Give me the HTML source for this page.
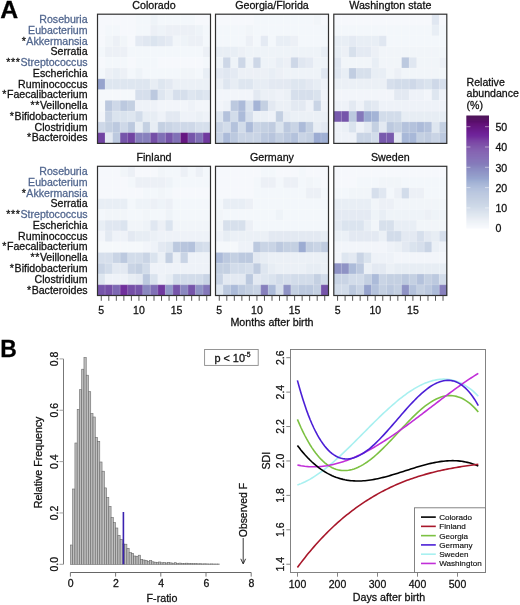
<!DOCTYPE html><html><head><meta charset="utf-8"><style>html,body{margin:0;padding:0;background:#fff;width:520px;height:605px;overflow:hidden;position:relative}</style></head><body><svg width="520" height="605" viewBox="0 0 520 605" style="position:absolute;left:0;top:0;font-family:'Liberation Sans', sans-serif;will-change:transform">
<rect width="520" height="605" fill="#fff"/>
<text transform="translate(0.2 17.6) scale(1.07 1)" font-size="23.2" font-weight="bold" fill="#000" stroke="#000" stroke-width="0.28">A</text>
<rect x="97.50" y="14.20" width="7.83" height="11.07" fill="#f6f8fc"/>
<rect x="105.03" y="14.20" width="7.83" height="11.07" fill="#f6f8fc"/>
<rect x="112.57" y="14.20" width="7.83" height="11.07" fill="#f6f8fc"/>
<rect x="120.10" y="14.20" width="7.83" height="11.07" fill="#f6f8fc"/>
<rect x="127.63" y="14.20" width="7.83" height="11.07" fill="#f6f8fc"/>
<rect x="135.17" y="14.20" width="7.83" height="11.07" fill="#f3f7fb"/>
<rect x="142.70" y="14.20" width="7.83" height="11.07" fill="#f3f7fb"/>
<rect x="150.23" y="14.20" width="7.83" height="11.07" fill="#eef3f8"/>
<rect x="157.77" y="14.20" width="7.83" height="11.07" fill="#f3f7fb"/>
<rect x="165.30" y="14.20" width="7.83" height="11.07" fill="#f3f7fb"/>
<rect x="172.83" y="14.20" width="7.83" height="11.07" fill="#f3f7fb"/>
<rect x="180.37" y="14.20" width="7.83" height="11.07" fill="#f3f7fb"/>
<rect x="187.90" y="14.20" width="7.83" height="11.07" fill="#f3f7fb"/>
<rect x="195.43" y="14.20" width="7.83" height="11.07" fill="#f6f8fc"/>
<rect x="202.97" y="14.20" width="7.83" height="11.07" fill="#f6f8fc"/>
<rect x="97.50" y="24.97" width="7.83" height="11.07" fill="#f6f8fc"/>
<rect x="105.03" y="24.97" width="7.83" height="11.07" fill="#f3f7fb"/>
<rect x="112.57" y="24.97" width="7.83" height="11.07" fill="#f3f7fb"/>
<rect x="120.10" y="24.97" width="7.83" height="11.07" fill="#f6f8fc"/>
<rect x="127.63" y="24.97" width="7.83" height="11.07" fill="#f6f8fc"/>
<rect x="135.17" y="24.97" width="7.83" height="11.07" fill="#f3f7fb"/>
<rect x="142.70" y="24.97" width="7.83" height="11.07" fill="#f3f7fb"/>
<rect x="150.23" y="24.97" width="7.83" height="11.07" fill="#ecf0f6"/>
<rect x="157.77" y="24.97" width="7.83" height="11.07" fill="#eef3f8"/>
<rect x="165.30" y="24.97" width="7.83" height="11.07" fill="#ecf0f6"/>
<rect x="172.83" y="24.97" width="7.83" height="11.07" fill="#ecf0f6"/>
<rect x="180.37" y="24.97" width="7.83" height="11.07" fill="#ecf0f6"/>
<rect x="187.90" y="24.97" width="7.83" height="11.07" fill="#ecf0f6"/>
<rect x="195.43" y="24.97" width="7.83" height="11.07" fill="#eef3f8"/>
<rect x="202.97" y="24.97" width="7.83" height="11.07" fill="#f3f7fb"/>
<rect x="97.50" y="35.73" width="7.83" height="11.07" fill="#f6f8fc"/>
<rect x="105.03" y="35.73" width="7.83" height="11.07" fill="#f1f5f9"/>
<rect x="112.57" y="35.73" width="7.83" height="11.07" fill="#ecf0f6"/>
<rect x="120.10" y="35.73" width="7.83" height="11.07" fill="#f1f5f9"/>
<rect x="127.63" y="35.73" width="7.83" height="11.07" fill="#f6f8fc"/>
<rect x="135.17" y="35.73" width="7.83" height="11.07" fill="#e4eaf3"/>
<rect x="142.70" y="35.73" width="7.83" height="11.07" fill="#e0e7f1"/>
<rect x="150.23" y="35.73" width="7.83" height="11.07" fill="#dbe4ef"/>
<rect x="157.77" y="35.73" width="7.83" height="11.07" fill="#e0e7f1"/>
<rect x="165.30" y="35.73" width="7.83" height="11.07" fill="#e4eaf3"/>
<rect x="172.83" y="35.73" width="7.83" height="11.07" fill="#f1f5f9"/>
<rect x="180.37" y="35.73" width="7.83" height="11.07" fill="#eef3f8"/>
<rect x="187.90" y="35.73" width="7.83" height="11.07" fill="#ecf0f6"/>
<rect x="195.43" y="35.73" width="7.83" height="11.07" fill="#ecf0f6"/>
<rect x="202.97" y="35.73" width="7.83" height="11.07" fill="#f3f7fb"/>
<rect x="97.50" y="46.50" width="7.83" height="11.07" fill="#f3f7fb"/>
<rect x="105.03" y="46.50" width="7.83" height="11.07" fill="#ecf0f6"/>
<rect x="112.57" y="46.50" width="7.83" height="11.07" fill="#ecf0f6"/>
<rect x="120.10" y="46.50" width="7.83" height="11.07" fill="#ecf0f6"/>
<rect x="127.63" y="46.50" width="7.83" height="11.07" fill="#f3f7fb"/>
<rect x="135.17" y="46.50" width="7.83" height="11.07" fill="#f3f7fb"/>
<rect x="142.70" y="46.50" width="7.83" height="11.07" fill="#f3f7fb"/>
<rect x="150.23" y="46.50" width="7.83" height="11.07" fill="#f3f7fb"/>
<rect x="157.77" y="46.50" width="7.83" height="11.07" fill="#f3f7fb"/>
<rect x="165.30" y="46.50" width="7.83" height="11.07" fill="#f3f7fb"/>
<rect x="172.83" y="46.50" width="7.83" height="11.07" fill="#f3f7fb"/>
<rect x="180.37" y="46.50" width="7.83" height="11.07" fill="#f3f7fb"/>
<rect x="187.90" y="46.50" width="7.83" height="11.07" fill="#f3f7fb"/>
<rect x="195.43" y="46.50" width="7.83" height="11.07" fill="#f3f7fb"/>
<rect x="202.97" y="46.50" width="7.83" height="11.07" fill="#ecf0f6"/>
<rect x="97.50" y="57.27" width="7.83" height="11.07" fill="#f6f8fc"/>
<rect x="105.03" y="57.27" width="7.83" height="11.07" fill="#f3f7fb"/>
<rect x="112.57" y="57.27" width="7.83" height="11.07" fill="#f3f7fb"/>
<rect x="120.10" y="57.27" width="7.83" height="11.07" fill="#f3f7fb"/>
<rect x="127.63" y="57.27" width="7.83" height="11.07" fill="#f6f8fc"/>
<rect x="135.17" y="57.27" width="7.83" height="11.07" fill="#f3f7fb"/>
<rect x="142.70" y="57.27" width="7.83" height="11.07" fill="#f3f7fb"/>
<rect x="150.23" y="57.27" width="7.83" height="11.07" fill="#f3f7fb"/>
<rect x="157.77" y="57.27" width="7.83" height="11.07" fill="#f6f8fc"/>
<rect x="165.30" y="57.27" width="7.83" height="11.07" fill="#f6f8fc"/>
<rect x="172.83" y="57.27" width="7.83" height="11.07" fill="#f6f8fc"/>
<rect x="180.37" y="57.27" width="7.83" height="11.07" fill="#f6f8fc"/>
<rect x="187.90" y="57.27" width="7.83" height="11.07" fill="#f6f8fc"/>
<rect x="195.43" y="57.27" width="7.83" height="11.07" fill="#f6f8fc"/>
<rect x="202.97" y="57.27" width="7.83" height="11.07" fill="#f3f7fb"/>
<rect x="97.50" y="68.03" width="7.83" height="11.07" fill="#f3f7fb"/>
<rect x="105.03" y="68.03" width="7.83" height="11.07" fill="#ecf0f6"/>
<rect x="112.57" y="68.03" width="7.83" height="11.07" fill="#e8eef5"/>
<rect x="120.10" y="68.03" width="7.83" height="11.07" fill="#ecf0f6"/>
<rect x="127.63" y="68.03" width="7.83" height="11.07" fill="#f3f7fb"/>
<rect x="135.17" y="68.03" width="7.83" height="11.07" fill="#eef3f8"/>
<rect x="142.70" y="68.03" width="7.83" height="11.07" fill="#f3f7fb"/>
<rect x="150.23" y="68.03" width="7.83" height="11.07" fill="#f3f7fb"/>
<rect x="157.77" y="68.03" width="7.83" height="11.07" fill="#f3f7fb"/>
<rect x="165.30" y="68.03" width="7.83" height="11.07" fill="#f3f7fb"/>
<rect x="172.83" y="68.03" width="7.83" height="11.07" fill="#f3f7fb"/>
<rect x="180.37" y="68.03" width="7.83" height="11.07" fill="#f1f5f9"/>
<rect x="187.90" y="68.03" width="7.83" height="11.07" fill="#f1f5f9"/>
<rect x="195.43" y="68.03" width="7.83" height="11.07" fill="#f3f7fb"/>
<rect x="202.97" y="68.03" width="7.83" height="11.07" fill="#e8eef5"/>
<rect x="97.50" y="78.80" width="7.83" height="11.07" fill="#96a3cd"/>
<rect x="105.03" y="78.80" width="7.83" height="11.07" fill="#dee6f0"/>
<rect x="112.57" y="78.80" width="7.83" height="11.07" fill="#dee6f0"/>
<rect x="120.10" y="78.80" width="7.83" height="11.07" fill="#dee6f0"/>
<rect x="127.63" y="78.80" width="7.83" height="11.07" fill="#dee6f0"/>
<rect x="135.17" y="78.80" width="7.83" height="11.07" fill="#dee6f0"/>
<rect x="142.70" y="78.80" width="7.83" height="11.07" fill="#dee6f0"/>
<rect x="150.23" y="78.80" width="7.83" height="11.07" fill="#e7edf4"/>
<rect x="157.77" y="78.80" width="7.83" height="11.07" fill="#dee6f0"/>
<rect x="165.30" y="78.80" width="7.83" height="11.07" fill="#e3e9f2"/>
<rect x="172.83" y="78.80" width="7.83" height="11.07" fill="#ebf0f6"/>
<rect x="180.37" y="78.80" width="7.83" height="11.07" fill="#ebf0f6"/>
<rect x="187.90" y="78.80" width="7.83" height="11.07" fill="#ebf0f6"/>
<rect x="195.43" y="78.80" width="7.83" height="11.07" fill="#ebf0f6"/>
<rect x="202.97" y="78.80" width="7.83" height="11.07" fill="#ebf0f6"/>
<rect x="97.50" y="89.57" width="7.83" height="11.07" fill="#f5f8fb"/>
<rect x="105.03" y="89.57" width="7.83" height="11.07" fill="#f5f8fb"/>
<rect x="112.57" y="89.57" width="7.83" height="11.07" fill="#f5f8fb"/>
<rect x="120.10" y="89.57" width="7.83" height="11.07" fill="#f5f8fb"/>
<rect x="127.63" y="89.57" width="7.83" height="11.07" fill="#f5f8fb"/>
<rect x="135.17" y="89.57" width="7.83" height="11.07" fill="#d6dfec"/>
<rect x="142.70" y="89.57" width="7.83" height="11.07" fill="#d6dfec"/>
<rect x="150.23" y="89.57" width="7.83" height="11.07" fill="#bcc9df"/>
<rect x="157.77" y="89.57" width="7.83" height="11.07" fill="#dee6f0"/>
<rect x="165.30" y="89.57" width="7.83" height="11.07" fill="#e7edf4"/>
<rect x="172.83" y="89.57" width="7.83" height="11.07" fill="#d6dfec"/>
<rect x="180.37" y="89.57" width="7.83" height="11.07" fill="#d6dfec"/>
<rect x="187.90" y="89.57" width="7.83" height="11.07" fill="#dee6f0"/>
<rect x="195.43" y="89.57" width="7.83" height="11.07" fill="#dae3ee"/>
<rect x="202.97" y="89.57" width="7.83" height="11.07" fill="#dee6f0"/>
<rect x="97.50" y="100.33" width="7.83" height="11.07" fill="#f5f8fb"/>
<rect x="105.03" y="100.33" width="7.83" height="11.07" fill="#bcc9df"/>
<rect x="112.57" y="100.33" width="7.83" height="11.07" fill="#ced8e8"/>
<rect x="120.10" y="100.33" width="7.83" height="11.07" fill="#bcc9df"/>
<rect x="127.63" y="100.33" width="7.83" height="11.07" fill="#c4d0e2"/>
<rect x="135.17" y="100.33" width="7.83" height="11.07" fill="#eef2f8"/>
<rect x="142.70" y="100.33" width="7.83" height="11.07" fill="#eef2f8"/>
<rect x="150.23" y="100.33" width="7.83" height="11.07" fill="#eef2f8"/>
<rect x="157.77" y="100.33" width="7.83" height="11.07" fill="#f2f5fa"/>
<rect x="165.30" y="100.33" width="7.83" height="11.07" fill="#f2f5fa"/>
<rect x="172.83" y="100.33" width="7.83" height="11.07" fill="#f2f5fa"/>
<rect x="180.37" y="100.33" width="7.83" height="11.07" fill="#f2f5fa"/>
<rect x="187.90" y="100.33" width="7.83" height="11.07" fill="#eef2f8"/>
<rect x="195.43" y="100.33" width="7.83" height="11.07" fill="#f2f5fa"/>
<rect x="202.97" y="100.33" width="7.83" height="11.07" fill="#f2f5fa"/>
<rect x="97.50" y="111.10" width="7.83" height="11.07" fill="#f2f5fa"/>
<rect x="105.03" y="111.10" width="7.83" height="11.07" fill="#c9d4e5"/>
<rect x="112.57" y="111.10" width="7.83" height="11.07" fill="#dae3ee"/>
<rect x="120.10" y="111.10" width="7.83" height="11.07" fill="#dae3ee"/>
<rect x="127.63" y="111.10" width="7.83" height="11.07" fill="#dee6f0"/>
<rect x="135.17" y="111.10" width="7.83" height="11.07" fill="#d2dcea"/>
<rect x="142.70" y="111.10" width="7.83" height="11.07" fill="#e7edf4"/>
<rect x="150.23" y="111.10" width="7.83" height="11.07" fill="#e7edf4"/>
<rect x="157.77" y="111.10" width="7.83" height="11.07" fill="#eef2f8"/>
<rect x="165.30" y="111.10" width="7.83" height="11.07" fill="#e3e9f2"/>
<rect x="172.83" y="111.10" width="7.83" height="11.07" fill="#e3e9f2"/>
<rect x="180.37" y="111.10" width="7.83" height="11.07" fill="#eef2f8"/>
<rect x="187.90" y="111.10" width="7.83" height="11.07" fill="#eef2f8"/>
<rect x="195.43" y="111.10" width="7.83" height="11.07" fill="#ebf0f6"/>
<rect x="202.97" y="111.10" width="7.83" height="11.07" fill="#eef2f8"/>
<rect x="97.50" y="121.87" width="7.83" height="11.07" fill="#ced8e8"/>
<rect x="105.03" y="121.87" width="7.83" height="11.07" fill="#c4d0e2"/>
<rect x="112.57" y="121.87" width="7.83" height="11.07" fill="#bcc9df"/>
<rect x="120.10" y="121.87" width="7.83" height="11.07" fill="#ced8e8"/>
<rect x="127.63" y="121.87" width="7.83" height="11.07" fill="#bcc9df"/>
<rect x="135.17" y="121.87" width="7.83" height="11.07" fill="#e7edf4"/>
<rect x="142.70" y="121.87" width="7.83" height="11.07" fill="#c4d0e2"/>
<rect x="150.23" y="121.87" width="7.83" height="11.07" fill="#e7edf4"/>
<rect x="157.77" y="121.87" width="7.83" height="11.07" fill="#c4d0e2"/>
<rect x="165.30" y="121.87" width="7.83" height="11.07" fill="#c9d4e5"/>
<rect x="172.83" y="121.87" width="7.83" height="11.07" fill="#ced8e8"/>
<rect x="180.37" y="121.87" width="7.83" height="11.07" fill="#ced8e8"/>
<rect x="187.90" y="121.87" width="7.83" height="11.07" fill="#ced8e8"/>
<rect x="195.43" y="121.87" width="7.83" height="11.07" fill="#d6dfec"/>
<rect x="202.97" y="121.87" width="7.83" height="11.07" fill="#d6dfec"/>
<rect x="97.50" y="132.63" width="7.83" height="11.07" fill="#7143a2"/>
<rect x="105.03" y="132.63" width="7.83" height="11.07" fill="#e3e9f2"/>
<rect x="112.57" y="132.63" width="7.83" height="11.07" fill="#bcc9df"/>
<rect x="120.10" y="132.63" width="7.83" height="11.07" fill="#7655aa"/>
<rect x="127.63" y="132.63" width="7.83" height="11.07" fill="#7143a2"/>
<rect x="135.17" y="132.63" width="7.83" height="11.07" fill="#8780bd"/>
<rect x="142.70" y="132.63" width="7.83" height="11.07" fill="#8780bd"/>
<rect x="150.23" y="132.63" width="7.83" height="11.07" fill="#754fa7"/>
<rect x="157.77" y="132.63" width="7.83" height="11.07" fill="#8070b6"/>
<rect x="165.30" y="132.63" width="7.83" height="11.07" fill="#7655aa"/>
<rect x="172.83" y="132.63" width="7.83" height="11.07" fill="#8070b6"/>
<rect x="180.37" y="132.63" width="7.83" height="11.07" fill="#661782"/>
<rect x="187.90" y="132.63" width="7.83" height="11.07" fill="#7655aa"/>
<rect x="195.43" y="132.63" width="7.83" height="11.07" fill="#8070b6"/>
<rect x="202.97" y="132.63" width="7.83" height="11.07" fill="#70399f"/>
<path d="M105.03 14.20V143.40M112.57 14.20V143.40M120.10 14.20V143.40M127.63 14.20V143.40M135.17 14.20V143.40M142.70 14.20V143.40M150.23 14.20V143.40M157.77 14.20V143.40M165.30 14.20V143.40M172.83 14.20V143.40M180.37 14.20V143.40M187.90 14.20V143.40M195.43 14.20V143.40M202.97 14.20V143.40M97.50 24.97H210.50M97.50 35.73H210.50M97.50 46.50H210.50M97.50 57.27H210.50M97.50 68.03H210.50M97.50 78.80H210.50M97.50 89.57H210.50M97.50 100.33H210.50M97.50 111.10H210.50M97.50 121.87H210.50M97.50 132.63H210.50" stroke="#fff" stroke-opacity="0.3" stroke-width="0.6" fill="none"/>
<rect x="97.5" y="14.2" width="113.0" height="129.2" fill="none" stroke="#303030" stroke-width="1.2"/>
<text x="154.0" y="9.0" font-size="10.7" text-anchor="middle" fill="#111" stroke="#111" stroke-width="0.28">Colorado</text>
<text x="87.6" y="23.00" font-size="10.6" text-anchor="end" fill="#52678f" stroke="#52678f" stroke-width="0.275"><tspan fill="#111" letter-spacing="0.6" stroke="#111" stroke-width="0.28"></tspan>Roseburia</text>
<text x="87.6" y="33.77" font-size="10.6" text-anchor="end" fill="#52678f" stroke="#52678f" stroke-width="0.275"><tspan fill="#111" letter-spacing="0.6" stroke="#111" stroke-width="0.28"></tspan>Eubacterium</text>
<text x="87.6" y="44.53" font-size="10.6" text-anchor="end" fill="#52678f" stroke="#52678f" stroke-width="0.275"><tspan fill="#111" letter-spacing="0.6" stroke="#111" stroke-width="0.28">*</tspan>Akkermansia</text>
<text x="87.6" y="55.30" font-size="10.6" text-anchor="end" fill="#111" stroke="#111" stroke-width="0.275"><tspan fill="#111" letter-spacing="0.6" stroke="#111" stroke-width="0.28"></tspan>Serratia</text>
<text x="87.6" y="66.07" font-size="10.6" text-anchor="end" fill="#52678f" stroke="#52678f" stroke-width="0.275"><tspan fill="#111" letter-spacing="0.6" stroke="#111" stroke-width="0.28">***</tspan>Streptococcus</text>
<text x="87.6" y="76.83" font-size="10.6" text-anchor="end" fill="#111" stroke="#111" stroke-width="0.275"><tspan fill="#111" letter-spacing="0.6" stroke="#111" stroke-width="0.28"></tspan>Escherichia</text>
<text x="87.6" y="87.60" font-size="10.6" text-anchor="end" fill="#111" stroke="#111" stroke-width="0.275"><tspan fill="#111" letter-spacing="0.6" stroke="#111" stroke-width="0.28"></tspan>Ruminococcus</text>
<text x="87.6" y="98.37" font-size="10.6" text-anchor="end" fill="#111" stroke="#111" stroke-width="0.275"><tspan fill="#111" letter-spacing="0.6" stroke="#111" stroke-width="0.28">*</tspan>Faecalibacterium</text>
<text x="87.6" y="109.13" font-size="10.6" text-anchor="end" fill="#111" stroke="#111" stroke-width="0.275"><tspan fill="#111" letter-spacing="0.6" stroke="#111" stroke-width="0.28">**</tspan>Veillonella</text>
<text x="87.6" y="119.90" font-size="10.6" text-anchor="end" fill="#111" stroke="#111" stroke-width="0.275"><tspan fill="#111" letter-spacing="0.6" stroke="#111" stroke-width="0.28">*</tspan>Bifidobacterium</text>
<text x="87.6" y="130.67" font-size="10.6" text-anchor="end" fill="#111" stroke="#111" stroke-width="0.275"><tspan fill="#111" letter-spacing="0.6" stroke="#111" stroke-width="0.28"></tspan>Clostridium</text>
<text x="87.6" y="141.43" font-size="10.6" text-anchor="end" fill="#111" stroke="#111" stroke-width="0.275"><tspan fill="#111" letter-spacing="0.6" stroke="#111" stroke-width="0.28">*</tspan>Bacteroides</text>
<rect x="215.50" y="14.20" width="7.83" height="11.07" fill="#f6f8fc"/>
<rect x="223.03" y="14.20" width="7.83" height="11.07" fill="#f6f8fc"/>
<rect x="230.57" y="14.20" width="7.83" height="11.07" fill="#f6f8fc"/>
<rect x="238.10" y="14.20" width="7.83" height="11.07" fill="#f6f8fc"/>
<rect x="245.63" y="14.20" width="7.83" height="11.07" fill="#f6f8fc"/>
<rect x="253.17" y="14.20" width="7.83" height="11.07" fill="#f3f7fb"/>
<rect x="260.70" y="14.20" width="7.83" height="11.07" fill="#f3f7fb"/>
<rect x="268.23" y="14.20" width="7.83" height="11.07" fill="#f3f7fb"/>
<rect x="275.77" y="14.20" width="7.83" height="11.07" fill="#f3f7fb"/>
<rect x="283.30" y="14.20" width="7.83" height="11.07" fill="#f3f7fb"/>
<rect x="290.83" y="14.20" width="7.83" height="11.07" fill="#f3f7fb"/>
<rect x="298.37" y="14.20" width="7.83" height="11.07" fill="#f3f7fb"/>
<rect x="305.90" y="14.20" width="7.83" height="11.07" fill="#f3f7fb"/>
<rect x="313.43" y="14.20" width="7.83" height="11.07" fill="#f1f5f9"/>
<rect x="320.97" y="14.20" width="7.83" height="11.07" fill="#f6f8fc"/>
<rect x="215.50" y="24.97" width="7.83" height="11.07" fill="#f3f7fb"/>
<rect x="223.03" y="24.97" width="7.83" height="11.07" fill="#f3f7fb"/>
<rect x="230.57" y="24.97" width="7.83" height="11.07" fill="#f3f7fb"/>
<rect x="238.10" y="24.97" width="7.83" height="11.07" fill="#f3f7fb"/>
<rect x="245.63" y="24.97" width="7.83" height="11.07" fill="#f1f5f9"/>
<rect x="253.17" y="24.97" width="7.83" height="11.07" fill="#f3f7fb"/>
<rect x="260.70" y="24.97" width="7.83" height="11.07" fill="#f3f7fb"/>
<rect x="268.23" y="24.97" width="7.83" height="11.07" fill="#f3f7fb"/>
<rect x="275.77" y="24.97" width="7.83" height="11.07" fill="#f3f7fb"/>
<rect x="283.30" y="24.97" width="7.83" height="11.07" fill="#f3f7fb"/>
<rect x="290.83" y="24.97" width="7.83" height="11.07" fill="#f3f7fb"/>
<rect x="298.37" y="24.97" width="7.83" height="11.07" fill="#f3f7fb"/>
<rect x="305.90" y="24.97" width="7.83" height="11.07" fill="#f3f7fb"/>
<rect x="313.43" y="24.97" width="7.83" height="11.07" fill="#f3f7fb"/>
<rect x="320.97" y="24.97" width="7.83" height="11.07" fill="#f3f7fb"/>
<rect x="215.50" y="35.73" width="7.83" height="11.07" fill="#f3f7fb"/>
<rect x="223.03" y="35.73" width="7.83" height="11.07" fill="#f3f7fb"/>
<rect x="230.57" y="35.73" width="7.83" height="11.07" fill="#f3f7fb"/>
<rect x="238.10" y="35.73" width="7.83" height="11.07" fill="#f3f7fb"/>
<rect x="245.63" y="35.73" width="7.83" height="11.07" fill="#ecf0f6"/>
<rect x="253.17" y="35.73" width="7.83" height="11.07" fill="#f3f7fb"/>
<rect x="260.70" y="35.73" width="7.83" height="11.07" fill="#e4eaf3"/>
<rect x="268.23" y="35.73" width="7.83" height="11.07" fill="#f3f7fb"/>
<rect x="275.77" y="35.73" width="7.83" height="11.07" fill="#e8eef5"/>
<rect x="283.30" y="35.73" width="7.83" height="11.07" fill="#e8eef5"/>
<rect x="290.83" y="35.73" width="7.83" height="11.07" fill="#ecf0f6"/>
<rect x="298.37" y="35.73" width="7.83" height="11.07" fill="#f3f7fb"/>
<rect x="305.90" y="35.73" width="7.83" height="11.07" fill="#f3f7fb"/>
<rect x="313.43" y="35.73" width="7.83" height="11.07" fill="#f3f7fb"/>
<rect x="320.97" y="35.73" width="7.83" height="11.07" fill="#f3f7fb"/>
<rect x="215.50" y="46.50" width="7.83" height="11.07" fill="#e8eef5"/>
<rect x="223.03" y="46.50" width="7.83" height="11.07" fill="#e8eef5"/>
<rect x="230.57" y="46.50" width="7.83" height="11.07" fill="#e8eef5"/>
<rect x="238.10" y="46.50" width="7.83" height="11.07" fill="#ecf0f6"/>
<rect x="245.63" y="46.50" width="7.83" height="11.07" fill="#eef3f8"/>
<rect x="253.17" y="46.50" width="7.83" height="11.07" fill="#eef3f8"/>
<rect x="260.70" y="46.50" width="7.83" height="11.07" fill="#eef3f8"/>
<rect x="268.23" y="46.50" width="7.83" height="11.07" fill="#eef3f8"/>
<rect x="275.77" y="46.50" width="7.83" height="11.07" fill="#eef3f8"/>
<rect x="283.30" y="46.50" width="7.83" height="11.07" fill="#eef3f8"/>
<rect x="290.83" y="46.50" width="7.83" height="11.07" fill="#eef3f8"/>
<rect x="298.37" y="46.50" width="7.83" height="11.07" fill="#eef3f8"/>
<rect x="305.90" y="46.50" width="7.83" height="11.07" fill="#eef3f8"/>
<rect x="313.43" y="46.50" width="7.83" height="11.07" fill="#eef3f8"/>
<rect x="320.97" y="46.50" width="7.83" height="11.07" fill="#e8eef5"/>
<rect x="215.50" y="57.27" width="7.83" height="11.07" fill="#eef3f8"/>
<rect x="223.03" y="57.27" width="7.83" height="11.07" fill="#cdd7e7"/>
<rect x="230.57" y="57.27" width="7.83" height="11.07" fill="#eef3f8"/>
<rect x="238.10" y="57.27" width="7.83" height="11.07" fill="#cdd7e7"/>
<rect x="245.63" y="57.27" width="7.83" height="11.07" fill="#eef3f8"/>
<rect x="253.17" y="57.27" width="7.83" height="11.07" fill="#cdd7e7"/>
<rect x="260.70" y="57.27" width="7.83" height="11.07" fill="#eef3f8"/>
<rect x="268.23" y="57.27" width="7.83" height="11.07" fill="#eef3f8"/>
<rect x="275.77" y="57.27" width="7.83" height="11.07" fill="#e8eef5"/>
<rect x="283.30" y="57.27" width="7.83" height="11.07" fill="#ecf0f6"/>
<rect x="290.83" y="57.27" width="7.83" height="11.07" fill="#cdd7e7"/>
<rect x="298.37" y="57.27" width="7.83" height="11.07" fill="#e0e7f1"/>
<rect x="305.90" y="57.27" width="7.83" height="11.07" fill="#e4eaf3"/>
<rect x="313.43" y="57.27" width="7.83" height="11.07" fill="#eef3f8"/>
<rect x="320.97" y="57.27" width="7.83" height="11.07" fill="#eef3f8"/>
<rect x="215.50" y="68.03" width="7.83" height="11.07" fill="#e4eaf3"/>
<rect x="223.03" y="68.03" width="7.83" height="11.07" fill="#e0e7f1"/>
<rect x="230.57" y="68.03" width="7.83" height="11.07" fill="#e4eaf3"/>
<rect x="238.10" y="68.03" width="7.83" height="11.07" fill="#ecf0f6"/>
<rect x="245.63" y="68.03" width="7.83" height="11.07" fill="#ecf0f6"/>
<rect x="253.17" y="68.03" width="7.83" height="11.07" fill="#ecf0f6"/>
<rect x="260.70" y="68.03" width="7.83" height="11.07" fill="#ecf0f6"/>
<rect x="268.23" y="68.03" width="7.83" height="11.07" fill="#e8eef5"/>
<rect x="275.77" y="68.03" width="7.83" height="11.07" fill="#ecf0f6"/>
<rect x="283.30" y="68.03" width="7.83" height="11.07" fill="#eef3f8"/>
<rect x="290.83" y="68.03" width="7.83" height="11.07" fill="#eef3f8"/>
<rect x="298.37" y="68.03" width="7.83" height="11.07" fill="#eef3f8"/>
<rect x="305.90" y="68.03" width="7.83" height="11.07" fill="#eef3f8"/>
<rect x="313.43" y="68.03" width="7.83" height="11.07" fill="#eef3f8"/>
<rect x="320.97" y="68.03" width="7.83" height="11.07" fill="#e0e7f1"/>
<rect x="215.50" y="78.80" width="7.83" height="11.07" fill="#ebf0f6"/>
<rect x="223.03" y="78.80" width="7.83" height="11.07" fill="#dee6f0"/>
<rect x="230.57" y="78.80" width="7.83" height="11.07" fill="#e7edf4"/>
<rect x="238.10" y="78.80" width="7.83" height="11.07" fill="#dee6f0"/>
<rect x="245.63" y="78.80" width="7.83" height="11.07" fill="#dee6f0"/>
<rect x="253.17" y="78.80" width="7.83" height="11.07" fill="#e7edf4"/>
<rect x="260.70" y="78.80" width="7.83" height="11.07" fill="#e7edf4"/>
<rect x="268.23" y="78.80" width="7.83" height="11.07" fill="#e3e9f2"/>
<rect x="275.77" y="78.80" width="7.83" height="11.07" fill="#e3e9f2"/>
<rect x="283.30" y="78.80" width="7.83" height="11.07" fill="#e3e9f2"/>
<rect x="290.83" y="78.80" width="7.83" height="11.07" fill="#dee6f0"/>
<rect x="298.37" y="78.80" width="7.83" height="11.07" fill="#dee6f0"/>
<rect x="305.90" y="78.80" width="7.83" height="11.07" fill="#e3e9f2"/>
<rect x="313.43" y="78.80" width="7.83" height="11.07" fill="#e7edf4"/>
<rect x="320.97" y="78.80" width="7.83" height="11.07" fill="#eef2f8"/>
<rect x="215.50" y="89.57" width="7.83" height="11.07" fill="#f2f5fa"/>
<rect x="223.03" y="89.57" width="7.83" height="11.07" fill="#f2f5fa"/>
<rect x="230.57" y="89.57" width="7.83" height="11.07" fill="#f2f5fa"/>
<rect x="238.10" y="89.57" width="7.83" height="11.07" fill="#f2f5fa"/>
<rect x="245.63" y="89.57" width="7.83" height="11.07" fill="#f2f5fa"/>
<rect x="253.17" y="89.57" width="7.83" height="11.07" fill="#e3e9f2"/>
<rect x="260.70" y="89.57" width="7.83" height="11.07" fill="#ebf0f6"/>
<rect x="268.23" y="89.57" width="7.83" height="11.07" fill="#ebf0f6"/>
<rect x="275.77" y="89.57" width="7.83" height="11.07" fill="#eef2f8"/>
<rect x="283.30" y="89.57" width="7.83" height="11.07" fill="#ebf0f6"/>
<rect x="290.83" y="89.57" width="7.83" height="11.07" fill="#d6dfec"/>
<rect x="298.37" y="89.57" width="7.83" height="11.07" fill="#d6dfec"/>
<rect x="305.90" y="89.57" width="7.83" height="11.07" fill="#d6dfec"/>
<rect x="313.43" y="89.57" width="7.83" height="11.07" fill="#dae3ee"/>
<rect x="320.97" y="89.57" width="7.83" height="11.07" fill="#eef2f8"/>
<rect x="215.50" y="100.33" width="7.83" height="11.07" fill="#f2f5fa"/>
<rect x="223.03" y="100.33" width="7.83" height="11.07" fill="#eef2f8"/>
<rect x="230.57" y="100.33" width="7.83" height="11.07" fill="#bcc9df"/>
<rect x="238.10" y="100.33" width="7.83" height="11.07" fill="#acbbd9"/>
<rect x="245.63" y="100.33" width="7.83" height="11.07" fill="#dae3ee"/>
<rect x="253.17" y="100.33" width="7.83" height="11.07" fill="#a4b4d6"/>
<rect x="260.70" y="100.33" width="7.83" height="11.07" fill="#c4d0e2"/>
<rect x="268.23" y="100.33" width="7.83" height="11.07" fill="#e3e9f2"/>
<rect x="275.77" y="100.33" width="7.83" height="11.07" fill="#ebf0f6"/>
<rect x="283.30" y="100.33" width="7.83" height="11.07" fill="#ebf0f6"/>
<rect x="290.83" y="100.33" width="7.83" height="11.07" fill="#e3e9f2"/>
<rect x="298.37" y="100.33" width="7.83" height="11.07" fill="#e3e9f2"/>
<rect x="305.90" y="100.33" width="7.83" height="11.07" fill="#eef2f8"/>
<rect x="313.43" y="100.33" width="7.83" height="11.07" fill="#c9d4e5"/>
<rect x="320.97" y="100.33" width="7.83" height="11.07" fill="#eef2f8"/>
<rect x="215.50" y="111.10" width="7.83" height="11.07" fill="#dee6f0"/>
<rect x="223.03" y="111.10" width="7.83" height="11.07" fill="#b4c2dc"/>
<rect x="230.57" y="111.10" width="7.83" height="11.07" fill="#d2dcea"/>
<rect x="238.10" y="111.10" width="7.83" height="11.07" fill="#acbbd9"/>
<rect x="245.63" y="111.10" width="7.83" height="11.07" fill="#d6dfec"/>
<rect x="253.17" y="111.10" width="7.83" height="11.07" fill="#ebf0f6"/>
<rect x="260.70" y="111.10" width="7.83" height="11.07" fill="#ebf0f6"/>
<rect x="268.23" y="111.10" width="7.83" height="11.07" fill="#eef2f8"/>
<rect x="275.77" y="111.10" width="7.83" height="11.07" fill="#c4d0e2"/>
<rect x="283.30" y="111.10" width="7.83" height="11.07" fill="#e7edf4"/>
<rect x="290.83" y="111.10" width="7.83" height="11.07" fill="#ebf0f6"/>
<rect x="298.37" y="111.10" width="7.83" height="11.07" fill="#ebf0f6"/>
<rect x="305.90" y="111.10" width="7.83" height="11.07" fill="#ebf0f6"/>
<rect x="313.43" y="111.10" width="7.83" height="11.07" fill="#ebf0f6"/>
<rect x="320.97" y="111.10" width="7.83" height="11.07" fill="#ebf0f6"/>
<rect x="215.50" y="121.87" width="7.83" height="11.07" fill="#c9d4e5"/>
<rect x="223.03" y="121.87" width="7.83" height="11.07" fill="#d2dcea"/>
<rect x="230.57" y="121.87" width="7.83" height="11.07" fill="#b4c2dc"/>
<rect x="238.10" y="121.87" width="7.83" height="11.07" fill="#d2dcea"/>
<rect x="245.63" y="121.87" width="7.83" height="11.07" fill="#acbbd9"/>
<rect x="253.17" y="121.87" width="7.83" height="11.07" fill="#c9d4e5"/>
<rect x="260.70" y="121.87" width="7.83" height="11.07" fill="#c4d0e2"/>
<rect x="268.23" y="121.87" width="7.83" height="11.07" fill="#c0cce0"/>
<rect x="275.77" y="121.87" width="7.83" height="11.07" fill="#dae3ee"/>
<rect x="283.30" y="121.87" width="7.83" height="11.07" fill="#bcc9df"/>
<rect x="290.83" y="121.87" width="7.83" height="11.07" fill="#c9d4e5"/>
<rect x="298.37" y="121.87" width="7.83" height="11.07" fill="#acbbd9"/>
<rect x="305.90" y="121.87" width="7.83" height="11.07" fill="#c4d0e2"/>
<rect x="313.43" y="121.87" width="7.83" height="11.07" fill="#e7edf4"/>
<rect x="320.97" y="121.87" width="7.83" height="11.07" fill="#e3e9f2"/>
<rect x="215.50" y="132.63" width="7.83" height="11.07" fill="#c9d4e5"/>
<rect x="223.03" y="132.63" width="7.83" height="11.07" fill="#acbbd9"/>
<rect x="230.57" y="132.63" width="7.83" height="11.07" fill="#bcc9df"/>
<rect x="238.10" y="132.63" width="7.83" height="11.07" fill="#c9d4e5"/>
<rect x="245.63" y="132.63" width="7.83" height="11.07" fill="#c9d4e5"/>
<rect x="253.17" y="132.63" width="7.83" height="11.07" fill="#c9d4e5"/>
<rect x="260.70" y="132.63" width="7.83" height="11.07" fill="#bcc9df"/>
<rect x="268.23" y="132.63" width="7.83" height="11.07" fill="#b8c5dd"/>
<rect x="275.77" y="132.63" width="7.83" height="11.07" fill="#c4d0e2"/>
<rect x="283.30" y="132.63" width="7.83" height="11.07" fill="#bcc9df"/>
<rect x="290.83" y="132.63" width="7.83" height="11.07" fill="#b4c2dc"/>
<rect x="298.37" y="132.63" width="7.83" height="11.07" fill="#c9d4e5"/>
<rect x="305.90" y="132.63" width="7.83" height="11.07" fill="#c4d0e2"/>
<rect x="313.43" y="132.63" width="7.83" height="11.07" fill="#9cacd2"/>
<rect x="320.97" y="132.63" width="7.83" height="11.07" fill="#a0b0d4"/>
<path d="M223.03 14.20V143.40M230.57 14.20V143.40M238.10 14.20V143.40M245.63 14.20V143.40M253.17 14.20V143.40M260.70 14.20V143.40M268.23 14.20V143.40M275.77 14.20V143.40M283.30 14.20V143.40M290.83 14.20V143.40M298.37 14.20V143.40M305.90 14.20V143.40M313.43 14.20V143.40M320.97 14.20V143.40M215.50 24.97H328.50M215.50 35.73H328.50M215.50 46.50H328.50M215.50 57.27H328.50M215.50 68.03H328.50M215.50 78.80H328.50M215.50 89.57H328.50M215.50 100.33H328.50M215.50 111.10H328.50M215.50 121.87H328.50M215.50 132.63H328.50" stroke="#fff" stroke-opacity="0.3" stroke-width="0.6" fill="none"/>
<rect x="215.5" y="14.2" width="113.0" height="129.2" fill="none" stroke="#303030" stroke-width="1.2"/>
<text x="272.0" y="9.0" font-size="10.7" text-anchor="middle" fill="#111" stroke="#111" stroke-width="0.28">Georgia/Florida</text>
<rect x="333.80" y="14.20" width="7.83" height="11.07" fill="#f6f8fc"/>
<rect x="341.33" y="14.20" width="7.83" height="11.07" fill="#f6f8fc"/>
<rect x="348.87" y="14.20" width="7.83" height="11.07" fill="#f6f8fc"/>
<rect x="356.40" y="14.20" width="7.83" height="11.07" fill="#f6f8fc"/>
<rect x="363.93" y="14.20" width="7.83" height="11.07" fill="#f6f8fc"/>
<rect x="371.47" y="14.20" width="7.83" height="11.07" fill="#f6f8fc"/>
<rect x="379.00" y="14.20" width="7.83" height="11.07" fill="#f6f8fc"/>
<rect x="386.53" y="14.20" width="7.83" height="11.07" fill="#f6f8fc"/>
<rect x="394.07" y="14.20" width="7.83" height="11.07" fill="#f6f8fc"/>
<rect x="401.60" y="14.20" width="7.83" height="11.07" fill="#f6f8fc"/>
<rect x="409.13" y="14.20" width="7.83" height="11.07" fill="#f6f8fc"/>
<rect x="416.67" y="14.20" width="7.83" height="11.07" fill="#f6f8fc"/>
<rect x="424.20" y="14.20" width="7.83" height="11.07" fill="#f6f8fc"/>
<rect x="431.73" y="14.20" width="7.83" height="11.07" fill="#e0e7f1"/>
<rect x="439.27" y="14.20" width="7.83" height="11.07" fill="#f6f8fc"/>
<rect x="333.80" y="24.97" width="7.83" height="11.07" fill="#f3f7fb"/>
<rect x="341.33" y="24.97" width="7.83" height="11.07" fill="#f3f7fb"/>
<rect x="348.87" y="24.97" width="7.83" height="11.07" fill="#f3f7fb"/>
<rect x="356.40" y="24.97" width="7.83" height="11.07" fill="#f3f7fb"/>
<rect x="363.93" y="24.97" width="7.83" height="11.07" fill="#f3f7fb"/>
<rect x="371.47" y="24.97" width="7.83" height="11.07" fill="#f3f7fb"/>
<rect x="379.00" y="24.97" width="7.83" height="11.07" fill="#f3f7fb"/>
<rect x="386.53" y="24.97" width="7.83" height="11.07" fill="#f3f7fb"/>
<rect x="394.07" y="24.97" width="7.83" height="11.07" fill="#f3f7fb"/>
<rect x="401.60" y="24.97" width="7.83" height="11.07" fill="#f3f7fb"/>
<rect x="409.13" y="24.97" width="7.83" height="11.07" fill="#f3f7fb"/>
<rect x="416.67" y="24.97" width="7.83" height="11.07" fill="#f3f7fb"/>
<rect x="424.20" y="24.97" width="7.83" height="11.07" fill="#f3f7fb"/>
<rect x="431.73" y="24.97" width="7.83" height="11.07" fill="#e8eef5"/>
<rect x="439.27" y="24.97" width="7.83" height="11.07" fill="#f3f7fb"/>
<rect x="333.80" y="35.73" width="7.83" height="11.07" fill="#e8eef5"/>
<rect x="341.33" y="35.73" width="7.83" height="11.07" fill="#e8eef5"/>
<rect x="348.87" y="35.73" width="7.83" height="11.07" fill="#e4eaf3"/>
<rect x="356.40" y="35.73" width="7.83" height="11.07" fill="#e8eef5"/>
<rect x="363.93" y="35.73" width="7.83" height="11.07" fill="#e8eef5"/>
<rect x="371.47" y="35.73" width="7.83" height="11.07" fill="#e8eef5"/>
<rect x="379.00" y="35.73" width="7.83" height="11.07" fill="#e0e7f1"/>
<rect x="386.53" y="35.73" width="7.83" height="11.07" fill="#f3f7fb"/>
<rect x="394.07" y="35.73" width="7.83" height="11.07" fill="#f3f7fb"/>
<rect x="401.60" y="35.73" width="7.83" height="11.07" fill="#f3f7fb"/>
<rect x="409.13" y="35.73" width="7.83" height="11.07" fill="#f3f7fb"/>
<rect x="416.67" y="35.73" width="7.83" height="11.07" fill="#f3f7fb"/>
<rect x="424.20" y="35.73" width="7.83" height="11.07" fill="#f3f7fb"/>
<rect x="431.73" y="35.73" width="7.83" height="11.07" fill="#f3f7fb"/>
<rect x="439.27" y="35.73" width="7.83" height="11.07" fill="#f3f7fb"/>
<rect x="333.80" y="46.50" width="7.83" height="11.07" fill="#e8eef5"/>
<rect x="341.33" y="46.50" width="7.83" height="11.07" fill="#ecf0f6"/>
<rect x="348.87" y="46.50" width="7.83" height="11.07" fill="#d7e0ec"/>
<rect x="356.40" y="46.50" width="7.83" height="11.07" fill="#e4eaf3"/>
<rect x="363.93" y="46.50" width="7.83" height="11.07" fill="#e4eaf3"/>
<rect x="371.47" y="46.50" width="7.83" height="11.07" fill="#ecf0f6"/>
<rect x="379.00" y="46.50" width="7.83" height="11.07" fill="#f1f5f9"/>
<rect x="386.53" y="46.50" width="7.83" height="11.07" fill="#f1f5f9"/>
<rect x="394.07" y="46.50" width="7.83" height="11.07" fill="#f1f5f9"/>
<rect x="401.60" y="46.50" width="7.83" height="11.07" fill="#f1f5f9"/>
<rect x="409.13" y="46.50" width="7.83" height="11.07" fill="#f1f5f9"/>
<rect x="416.67" y="46.50" width="7.83" height="11.07" fill="#f1f5f9"/>
<rect x="424.20" y="46.50" width="7.83" height="11.07" fill="#f1f5f9"/>
<rect x="431.73" y="46.50" width="7.83" height="11.07" fill="#f1f5f9"/>
<rect x="439.27" y="46.50" width="7.83" height="11.07" fill="#f1f5f9"/>
<rect x="333.80" y="57.27" width="7.83" height="11.07" fill="#e0e7f1"/>
<rect x="341.33" y="57.27" width="7.83" height="11.07" fill="#f1f5f9"/>
<rect x="348.87" y="57.27" width="7.83" height="11.07" fill="#f1f5f9"/>
<rect x="356.40" y="57.27" width="7.83" height="11.07" fill="#f1f5f9"/>
<rect x="363.93" y="57.27" width="7.83" height="11.07" fill="#f1f5f9"/>
<rect x="371.47" y="57.27" width="7.83" height="11.07" fill="#e8eef5"/>
<rect x="379.00" y="57.27" width="7.83" height="11.07" fill="#f1f5f9"/>
<rect x="386.53" y="57.27" width="7.83" height="11.07" fill="#f1f5f9"/>
<rect x="394.07" y="57.27" width="7.83" height="11.07" fill="#f1f5f9"/>
<rect x="401.60" y="57.27" width="7.83" height="11.07" fill="#bcc9df"/>
<rect x="409.13" y="57.27" width="7.83" height="11.07" fill="#e0e7f1"/>
<rect x="416.67" y="57.27" width="7.83" height="11.07" fill="#f1f5f9"/>
<rect x="424.20" y="57.27" width="7.83" height="11.07" fill="#f1f5f9"/>
<rect x="431.73" y="57.27" width="7.83" height="11.07" fill="#f1f5f9"/>
<rect x="439.27" y="57.27" width="7.83" height="11.07" fill="#ecf0f6"/>
<rect x="333.80" y="68.03" width="7.83" height="11.07" fill="#e0e7f1"/>
<rect x="341.33" y="68.03" width="7.83" height="11.07" fill="#e8eef5"/>
<rect x="348.87" y="68.03" width="7.83" height="11.07" fill="#c1cde1"/>
<rect x="356.40" y="68.03" width="7.83" height="11.07" fill="#d7e0ec"/>
<rect x="363.93" y="68.03" width="7.83" height="11.07" fill="#d7e0ec"/>
<rect x="371.47" y="68.03" width="7.83" height="11.07" fill="#e8eef5"/>
<rect x="379.00" y="68.03" width="7.83" height="11.07" fill="#e8eef5"/>
<rect x="386.53" y="68.03" width="7.83" height="11.07" fill="#f1f5f9"/>
<rect x="394.07" y="68.03" width="7.83" height="11.07" fill="#ecf0f6"/>
<rect x="401.60" y="68.03" width="7.83" height="11.07" fill="#f1f5f9"/>
<rect x="409.13" y="68.03" width="7.83" height="11.07" fill="#f1f5f9"/>
<rect x="416.67" y="68.03" width="7.83" height="11.07" fill="#f1f5f9"/>
<rect x="424.20" y="68.03" width="7.83" height="11.07" fill="#f1f5f9"/>
<rect x="431.73" y="68.03" width="7.83" height="11.07" fill="#f1f5f9"/>
<rect x="439.27" y="68.03" width="7.83" height="11.07" fill="#f1f5f9"/>
<rect x="333.80" y="78.80" width="7.83" height="11.07" fill="#ebf0f6"/>
<rect x="341.33" y="78.80" width="7.83" height="11.07" fill="#ebf0f6"/>
<rect x="348.87" y="78.80" width="7.83" height="11.07" fill="#ebf0f6"/>
<rect x="356.40" y="78.80" width="7.83" height="11.07" fill="#ebf0f6"/>
<rect x="363.93" y="78.80" width="7.83" height="11.07" fill="#ebf0f6"/>
<rect x="371.47" y="78.80" width="7.83" height="11.07" fill="#ebf0f6"/>
<rect x="379.00" y="78.80" width="7.83" height="11.07" fill="#ebf0f6"/>
<rect x="386.53" y="78.80" width="7.83" height="11.07" fill="#d6dfec"/>
<rect x="394.07" y="78.80" width="7.83" height="11.07" fill="#d2dcea"/>
<rect x="401.60" y="78.80" width="7.83" height="11.07" fill="#d2dcea"/>
<rect x="409.13" y="78.80" width="7.83" height="11.07" fill="#ced8e8"/>
<rect x="416.67" y="78.80" width="7.83" height="11.07" fill="#d6dfec"/>
<rect x="424.20" y="78.80" width="7.83" height="11.07" fill="#dae3ee"/>
<rect x="431.73" y="78.80" width="7.83" height="11.07" fill="#ced8e8"/>
<rect x="439.27" y="78.80" width="7.83" height="11.07" fill="#d6dfec"/>
<rect x="333.80" y="89.57" width="7.83" height="11.07" fill="#f2f5fa"/>
<rect x="341.33" y="89.57" width="7.83" height="11.07" fill="#f2f5fa"/>
<rect x="348.87" y="89.57" width="7.83" height="11.07" fill="#f2f5fa"/>
<rect x="356.40" y="89.57" width="7.83" height="11.07" fill="#f2f5fa"/>
<rect x="363.93" y="89.57" width="7.83" height="11.07" fill="#f2f5fa"/>
<rect x="371.47" y="89.57" width="7.83" height="11.07" fill="#f2f5fa"/>
<rect x="379.00" y="89.57" width="7.83" height="11.07" fill="#f2f5fa"/>
<rect x="386.53" y="89.57" width="7.83" height="11.07" fill="#f2f5fa"/>
<rect x="394.07" y="89.57" width="7.83" height="11.07" fill="#e3e9f2"/>
<rect x="401.60" y="89.57" width="7.83" height="11.07" fill="#e3e9f2"/>
<rect x="409.13" y="89.57" width="7.83" height="11.07" fill="#eef2f8"/>
<rect x="416.67" y="89.57" width="7.83" height="11.07" fill="#eef2f8"/>
<rect x="424.20" y="89.57" width="7.83" height="11.07" fill="#f2f5fa"/>
<rect x="431.73" y="89.57" width="7.83" height="11.07" fill="#dee6f0"/>
<rect x="439.27" y="89.57" width="7.83" height="11.07" fill="#eef2f8"/>
<rect x="333.80" y="100.33" width="7.83" height="11.07" fill="#eef2f8"/>
<rect x="341.33" y="100.33" width="7.83" height="11.07" fill="#eef2f8"/>
<rect x="348.87" y="100.33" width="7.83" height="11.07" fill="#e3e9f2"/>
<rect x="356.40" y="100.33" width="7.83" height="11.07" fill="#eef2f8"/>
<rect x="363.93" y="100.33" width="7.83" height="11.07" fill="#dee6f0"/>
<rect x="371.47" y="100.33" width="7.83" height="11.07" fill="#e3e9f2"/>
<rect x="379.00" y="100.33" width="7.83" height="11.07" fill="#eef2f8"/>
<rect x="386.53" y="100.33" width="7.83" height="11.07" fill="#eef2f8"/>
<rect x="394.07" y="100.33" width="7.83" height="11.07" fill="#eef2f8"/>
<rect x="401.60" y="100.33" width="7.83" height="11.07" fill="#eef2f8"/>
<rect x="409.13" y="100.33" width="7.83" height="11.07" fill="#eef2f8"/>
<rect x="416.67" y="100.33" width="7.83" height="11.07" fill="#eef2f8"/>
<rect x="424.20" y="100.33" width="7.83" height="11.07" fill="#eef2f8"/>
<rect x="431.73" y="100.33" width="7.83" height="11.07" fill="#eef2f8"/>
<rect x="439.27" y="100.33" width="7.83" height="11.07" fill="#eef2f8"/>
<rect x="333.80" y="111.10" width="7.83" height="11.07" fill="#785aad"/>
<rect x="341.33" y="111.10" width="7.83" height="11.07" fill="#7655aa"/>
<rect x="348.87" y="111.10" width="7.83" height="11.07" fill="#bcc9df"/>
<rect x="356.40" y="111.10" width="7.83" height="11.07" fill="#8478ba"/>
<rect x="363.93" y="111.10" width="7.83" height="11.07" fill="#9cacd2"/>
<rect x="371.47" y="111.10" width="7.83" height="11.07" fill="#a4b4d6"/>
<rect x="379.00" y="111.10" width="7.83" height="11.07" fill="#d2dcea"/>
<rect x="386.53" y="111.10" width="7.83" height="11.07" fill="#d2dcea"/>
<rect x="394.07" y="111.10" width="7.83" height="11.07" fill="#d2dcea"/>
<rect x="401.60" y="111.10" width="7.83" height="11.07" fill="#e7edf4"/>
<rect x="409.13" y="111.10" width="7.83" height="11.07" fill="#e7edf4"/>
<rect x="416.67" y="111.10" width="7.83" height="11.07" fill="#e7edf4"/>
<rect x="424.20" y="111.10" width="7.83" height="11.07" fill="#e7edf4"/>
<rect x="431.73" y="111.10" width="7.83" height="11.07" fill="#e7edf4"/>
<rect x="439.27" y="111.10" width="7.83" height="11.07" fill="#e7edf4"/>
<rect x="333.80" y="121.87" width="7.83" height="11.07" fill="#eef2f8"/>
<rect x="341.33" y="121.87" width="7.83" height="11.07" fill="#ebf0f6"/>
<rect x="348.87" y="121.87" width="7.83" height="11.07" fill="#dae3ee"/>
<rect x="356.40" y="121.87" width="7.83" height="11.07" fill="#eef2f8"/>
<rect x="363.93" y="121.87" width="7.83" height="11.07" fill="#e3e9f2"/>
<rect x="371.47" y="121.87" width="7.83" height="11.07" fill="#c4d0e2"/>
<rect x="379.00" y="121.87" width="7.83" height="11.07" fill="#e3e9f2"/>
<rect x="386.53" y="121.87" width="7.83" height="11.07" fill="#bcc9df"/>
<rect x="394.07" y="121.87" width="7.83" height="11.07" fill="#c4d0e2"/>
<rect x="401.60" y="121.87" width="7.83" height="11.07" fill="#b4c2dc"/>
<rect x="409.13" y="121.87" width="7.83" height="11.07" fill="#b4c2dc"/>
<rect x="416.67" y="121.87" width="7.83" height="11.07" fill="#acbbd9"/>
<rect x="424.20" y="121.87" width="7.83" height="11.07" fill="#b4c2dc"/>
<rect x="431.73" y="121.87" width="7.83" height="11.07" fill="#dee6f0"/>
<rect x="439.27" y="121.87" width="7.83" height="11.07" fill="#c4d0e2"/>
<rect x="333.80" y="132.63" width="7.83" height="11.07" fill="#eef2f8"/>
<rect x="341.33" y="132.63" width="7.83" height="11.07" fill="#eef2f8"/>
<rect x="348.87" y="132.63" width="7.83" height="11.07" fill="#eef2f8"/>
<rect x="356.40" y="132.63" width="7.83" height="11.07" fill="#c9d4e5"/>
<rect x="363.93" y="132.63" width="7.83" height="11.07" fill="#c9d4e5"/>
<rect x="371.47" y="132.63" width="7.83" height="11.07" fill="#d2dcea"/>
<rect x="379.00" y="132.63" width="7.83" height="11.07" fill="#785aad"/>
<rect x="386.53" y="132.63" width="7.83" height="11.07" fill="#785aad"/>
<rect x="394.07" y="132.63" width="7.83" height="11.07" fill="#e3e9f2"/>
<rect x="401.60" y="132.63" width="7.83" height="11.07" fill="#a8b8d8"/>
<rect x="409.13" y="132.63" width="7.83" height="11.07" fill="#a8b8d8"/>
<rect x="416.67" y="132.63" width="7.83" height="11.07" fill="#c4d0e2"/>
<rect x="424.20" y="132.63" width="7.83" height="11.07" fill="#c0cce0"/>
<rect x="431.73" y="132.63" width="7.83" height="11.07" fill="#c9d4e5"/>
<rect x="439.27" y="132.63" width="7.83" height="11.07" fill="#bcc9df"/>
<path d="M341.33 14.20V143.40M348.87 14.20V143.40M356.40 14.20V143.40M363.93 14.20V143.40M371.47 14.20V143.40M379.00 14.20V143.40M386.53 14.20V143.40M394.07 14.20V143.40M401.60 14.20V143.40M409.13 14.20V143.40M416.67 14.20V143.40M424.20 14.20V143.40M431.73 14.20V143.40M439.27 14.20V143.40M333.80 24.97H446.80M333.80 35.73H446.80M333.80 46.50H446.80M333.80 57.27H446.80M333.80 68.03H446.80M333.80 78.80H446.80M333.80 89.57H446.80M333.80 100.33H446.80M333.80 111.10H446.80M333.80 121.87H446.80M333.80 132.63H446.80" stroke="#fff" stroke-opacity="0.3" stroke-width="0.6" fill="none"/>
<rect x="333.8" y="14.2" width="113.0" height="129.2" fill="none" stroke="#303030" stroke-width="1.2"/>
<text x="390.3" y="9.0" font-size="10.7" text-anchor="middle" fill="#111" stroke="#111" stroke-width="0.28">Washington state</text>
<rect x="97.50" y="166.30" width="7.83" height="11.07" fill="#f6f8fc"/>
<rect x="105.03" y="166.30" width="7.83" height="11.07" fill="#f6f8fc"/>
<rect x="112.57" y="166.30" width="7.83" height="11.07" fill="#f6f8fc"/>
<rect x="120.10" y="166.30" width="7.83" height="11.07" fill="#f1f5f9"/>
<rect x="127.63" y="166.30" width="7.83" height="11.07" fill="#ecf0f6"/>
<rect x="135.17" y="166.30" width="7.83" height="11.07" fill="#f6f8fc"/>
<rect x="142.70" y="166.30" width="7.83" height="11.07" fill="#f6f8fc"/>
<rect x="150.23" y="166.30" width="7.83" height="11.07" fill="#f6f8fc"/>
<rect x="157.77" y="166.30" width="7.83" height="11.07" fill="#f1f5f9"/>
<rect x="165.30" y="166.30" width="7.83" height="11.07" fill="#f3f7fb"/>
<rect x="172.83" y="166.30" width="7.83" height="11.07" fill="#f3f7fb"/>
<rect x="180.37" y="166.30" width="7.83" height="11.07" fill="#ecf0f6"/>
<rect x="187.90" y="166.30" width="7.83" height="11.07" fill="#f3f7fb"/>
<rect x="195.43" y="166.30" width="7.83" height="11.07" fill="#ecf0f6"/>
<rect x="202.97" y="166.30" width="7.83" height="11.07" fill="#f3f7fb"/>
<rect x="97.50" y="177.07" width="7.83" height="11.07" fill="#f6f8fc"/>
<rect x="105.03" y="177.07" width="7.83" height="11.07" fill="#f6f8fc"/>
<rect x="112.57" y="177.07" width="7.83" height="11.07" fill="#f6f8fc"/>
<rect x="120.10" y="177.07" width="7.83" height="11.07" fill="#f6f8fc"/>
<rect x="127.63" y="177.07" width="7.83" height="11.07" fill="#f3f7fb"/>
<rect x="135.17" y="177.07" width="7.83" height="11.07" fill="#ecf0f6"/>
<rect x="142.70" y="177.07" width="7.83" height="11.07" fill="#ecf0f6"/>
<rect x="150.23" y="177.07" width="7.83" height="11.07" fill="#ecf0f6"/>
<rect x="157.77" y="177.07" width="7.83" height="11.07" fill="#ecf0f6"/>
<rect x="165.30" y="177.07" width="7.83" height="11.07" fill="#eef3f8"/>
<rect x="172.83" y="177.07" width="7.83" height="11.07" fill="#f3f7fb"/>
<rect x="180.37" y="177.07" width="7.83" height="11.07" fill="#f3f7fb"/>
<rect x="187.90" y="177.07" width="7.83" height="11.07" fill="#f3f7fb"/>
<rect x="195.43" y="177.07" width="7.83" height="11.07" fill="#f3f7fb"/>
<rect x="202.97" y="177.07" width="7.83" height="11.07" fill="#f3f7fb"/>
<rect x="97.50" y="187.83" width="7.83" height="11.07" fill="#f6f8fc"/>
<rect x="105.03" y="187.83" width="7.83" height="11.07" fill="#f6f8fc"/>
<rect x="112.57" y="187.83" width="7.83" height="11.07" fill="#f6f8fc"/>
<rect x="120.10" y="187.83" width="7.83" height="11.07" fill="#f6f8fc"/>
<rect x="127.63" y="187.83" width="7.83" height="11.07" fill="#f6f8fc"/>
<rect x="135.17" y="187.83" width="7.83" height="11.07" fill="#f6f8fc"/>
<rect x="142.70" y="187.83" width="7.83" height="11.07" fill="#f3f7fb"/>
<rect x="150.23" y="187.83" width="7.83" height="11.07" fill="#f3f7fb"/>
<rect x="157.77" y="187.83" width="7.83" height="11.07" fill="#f1f5f9"/>
<rect x="165.30" y="187.83" width="7.83" height="11.07" fill="#f3f7fb"/>
<rect x="172.83" y="187.83" width="7.83" height="11.07" fill="#f6f8fc"/>
<rect x="180.37" y="187.83" width="7.83" height="11.07" fill="#f6f8fc"/>
<rect x="187.90" y="187.83" width="7.83" height="11.07" fill="#f6f8fc"/>
<rect x="195.43" y="187.83" width="7.83" height="11.07" fill="#f6f8fc"/>
<rect x="202.97" y="187.83" width="7.83" height="11.07" fill="#f6f8fc"/>
<rect x="97.50" y="198.60" width="7.83" height="11.07" fill="#e8eef5"/>
<rect x="105.03" y="198.60" width="7.83" height="11.07" fill="#e8eef5"/>
<rect x="112.57" y="198.60" width="7.83" height="11.07" fill="#e8eef5"/>
<rect x="120.10" y="198.60" width="7.83" height="11.07" fill="#e8eef5"/>
<rect x="127.63" y="198.60" width="7.83" height="11.07" fill="#f3f7fb"/>
<rect x="135.17" y="198.60" width="7.83" height="11.07" fill="#eef3f8"/>
<rect x="142.70" y="198.60" width="7.83" height="11.07" fill="#eef3f8"/>
<rect x="150.23" y="198.60" width="7.83" height="11.07" fill="#ecf0f6"/>
<rect x="157.77" y="198.60" width="7.83" height="11.07" fill="#eef3f8"/>
<rect x="165.30" y="198.60" width="7.83" height="11.07" fill="#ecf0f6"/>
<rect x="172.83" y="198.60" width="7.83" height="11.07" fill="#f3f7fb"/>
<rect x="180.37" y="198.60" width="7.83" height="11.07" fill="#f3f7fb"/>
<rect x="187.90" y="198.60" width="7.83" height="11.07" fill="#f3f7fb"/>
<rect x="195.43" y="198.60" width="7.83" height="11.07" fill="#f3f7fb"/>
<rect x="202.97" y="198.60" width="7.83" height="11.07" fill="#f3f7fb"/>
<rect x="97.50" y="209.37" width="7.83" height="11.07" fill="#f3f7fb"/>
<rect x="105.03" y="209.37" width="7.83" height="11.07" fill="#f1f5f9"/>
<rect x="112.57" y="209.37" width="7.83" height="11.07" fill="#f1f5f9"/>
<rect x="120.10" y="209.37" width="7.83" height="11.07" fill="#f1f5f9"/>
<rect x="127.63" y="209.37" width="7.83" height="11.07" fill="#f3f7fb"/>
<rect x="135.17" y="209.37" width="7.83" height="11.07" fill="#f3f7fb"/>
<rect x="142.70" y="209.37" width="7.83" height="11.07" fill="#f1f5f9"/>
<rect x="150.23" y="209.37" width="7.83" height="11.07" fill="#f3f7fb"/>
<rect x="157.77" y="209.37" width="7.83" height="11.07" fill="#f3f7fb"/>
<rect x="165.30" y="209.37" width="7.83" height="11.07" fill="#eef3f8"/>
<rect x="172.83" y="209.37" width="7.83" height="11.07" fill="#f3f7fb"/>
<rect x="180.37" y="209.37" width="7.83" height="11.07" fill="#f3f7fb"/>
<rect x="187.90" y="209.37" width="7.83" height="11.07" fill="#f3f7fb"/>
<rect x="195.43" y="209.37" width="7.83" height="11.07" fill="#f3f7fb"/>
<rect x="202.97" y="209.37" width="7.83" height="11.07" fill="#f3f7fb"/>
<rect x="97.50" y="220.13" width="7.83" height="11.07" fill="#e8eef5"/>
<rect x="105.03" y="220.13" width="7.83" height="11.07" fill="#e0e7f1"/>
<rect x="112.57" y="220.13" width="7.83" height="11.07" fill="#e0e7f1"/>
<rect x="120.10" y="220.13" width="7.83" height="11.07" fill="#dbe4ef"/>
<rect x="127.63" y="220.13" width="7.83" height="11.07" fill="#f1f5f9"/>
<rect x="135.17" y="220.13" width="7.83" height="11.07" fill="#f1f5f9"/>
<rect x="142.70" y="220.13" width="7.83" height="11.07" fill="#eef3f8"/>
<rect x="150.23" y="220.13" width="7.83" height="11.07" fill="#e0e7f1"/>
<rect x="157.77" y="220.13" width="7.83" height="11.07" fill="#ecf0f6"/>
<rect x="165.30" y="220.13" width="7.83" height="11.07" fill="#dbe4ef"/>
<rect x="172.83" y="220.13" width="7.83" height="11.07" fill="#f1f5f9"/>
<rect x="180.37" y="220.13" width="7.83" height="11.07" fill="#f1f5f9"/>
<rect x="187.90" y="220.13" width="7.83" height="11.07" fill="#f1f5f9"/>
<rect x="195.43" y="220.13" width="7.83" height="11.07" fill="#f1f5f9"/>
<rect x="202.97" y="220.13" width="7.83" height="11.07" fill="#f1f5f9"/>
<rect x="97.50" y="230.90" width="7.83" height="11.07" fill="#f2f5fa"/>
<rect x="105.03" y="230.90" width="7.83" height="11.07" fill="#e3e9f2"/>
<rect x="112.57" y="230.90" width="7.83" height="11.07" fill="#eef2f8"/>
<rect x="120.10" y="230.90" width="7.83" height="11.07" fill="#eef2f8"/>
<rect x="127.63" y="230.90" width="7.83" height="11.07" fill="#e3e9f2"/>
<rect x="135.17" y="230.90" width="7.83" height="11.07" fill="#e7edf4"/>
<rect x="142.70" y="230.90" width="7.83" height="11.07" fill="#e7edf4"/>
<rect x="150.23" y="230.90" width="7.83" height="11.07" fill="#ebf0f6"/>
<rect x="157.77" y="230.90" width="7.83" height="11.07" fill="#eef2f8"/>
<rect x="165.30" y="230.90" width="7.83" height="11.07" fill="#eef2f8"/>
<rect x="172.83" y="230.90" width="7.83" height="11.07" fill="#eef2f8"/>
<rect x="180.37" y="230.90" width="7.83" height="11.07" fill="#eef2f8"/>
<rect x="187.90" y="230.90" width="7.83" height="11.07" fill="#eef2f8"/>
<rect x="195.43" y="230.90" width="7.83" height="11.07" fill="#eef2f8"/>
<rect x="202.97" y="230.90" width="7.83" height="11.07" fill="#eef2f8"/>
<rect x="97.50" y="241.67" width="7.83" height="11.07" fill="#f5f8fb"/>
<rect x="105.03" y="241.67" width="7.83" height="11.07" fill="#f5f8fb"/>
<rect x="112.57" y="241.67" width="7.83" height="11.07" fill="#f5f8fb"/>
<rect x="120.10" y="241.67" width="7.83" height="11.07" fill="#f5f8fb"/>
<rect x="127.63" y="241.67" width="7.83" height="11.07" fill="#f5f8fb"/>
<rect x="135.17" y="241.67" width="7.83" height="11.07" fill="#f5f8fb"/>
<rect x="142.70" y="241.67" width="7.83" height="11.07" fill="#f2f5fa"/>
<rect x="150.23" y="241.67" width="7.83" height="11.07" fill="#eef2f8"/>
<rect x="157.77" y="241.67" width="7.83" height="11.07" fill="#e3e9f2"/>
<rect x="165.30" y="241.67" width="7.83" height="11.07" fill="#dee6f0"/>
<rect x="172.83" y="241.67" width="7.83" height="11.07" fill="#bcc9df"/>
<rect x="180.37" y="241.67" width="7.83" height="11.07" fill="#b8c5dd"/>
<rect x="187.90" y="241.67" width="7.83" height="11.07" fill="#b4c2dc"/>
<rect x="195.43" y="241.67" width="7.83" height="11.07" fill="#d2dcea"/>
<rect x="202.97" y="241.67" width="7.83" height="11.07" fill="#d6dfec"/>
<rect x="97.50" y="252.43" width="7.83" height="11.07" fill="#d6dfec"/>
<rect x="105.03" y="252.43" width="7.83" height="11.07" fill="#d6dfec"/>
<rect x="112.57" y="252.43" width="7.83" height="11.07" fill="#c9d4e5"/>
<rect x="120.10" y="252.43" width="7.83" height="11.07" fill="#bcc9df"/>
<rect x="127.63" y="252.43" width="7.83" height="11.07" fill="#d2dcea"/>
<rect x="135.17" y="252.43" width="7.83" height="11.07" fill="#d2dcea"/>
<rect x="142.70" y="252.43" width="7.83" height="11.07" fill="#c9d4e5"/>
<rect x="150.23" y="252.43" width="7.83" height="11.07" fill="#dae3ee"/>
<rect x="157.77" y="252.43" width="7.83" height="11.07" fill="#ebf0f6"/>
<rect x="165.30" y="252.43" width="7.83" height="11.07" fill="#c4d0e2"/>
<rect x="172.83" y="252.43" width="7.83" height="11.07" fill="#ebf0f6"/>
<rect x="180.37" y="252.43" width="7.83" height="11.07" fill="#c9d4e5"/>
<rect x="187.90" y="252.43" width="7.83" height="11.07" fill="#eef2f8"/>
<rect x="195.43" y="252.43" width="7.83" height="11.07" fill="#eef2f8"/>
<rect x="202.97" y="252.43" width="7.83" height="11.07" fill="#eef2f8"/>
<rect x="97.50" y="263.20" width="7.83" height="11.07" fill="#c9d4e5"/>
<rect x="105.03" y="263.20" width="7.83" height="11.07" fill="#d2dcea"/>
<rect x="112.57" y="263.20" width="7.83" height="11.07" fill="#e3e9f2"/>
<rect x="120.10" y="263.20" width="7.83" height="11.07" fill="#e3e9f2"/>
<rect x="127.63" y="263.20" width="7.83" height="11.07" fill="#c9d4e5"/>
<rect x="135.17" y="263.20" width="7.83" height="11.07" fill="#c4d0e2"/>
<rect x="142.70" y="263.20" width="7.83" height="11.07" fill="#d2dcea"/>
<rect x="150.23" y="263.20" width="7.83" height="11.07" fill="#eef2f8"/>
<rect x="157.77" y="263.20" width="7.83" height="11.07" fill="#eef2f8"/>
<rect x="165.30" y="263.20" width="7.83" height="11.07" fill="#eef2f8"/>
<rect x="172.83" y="263.20" width="7.83" height="11.07" fill="#eef2f8"/>
<rect x="180.37" y="263.20" width="7.83" height="11.07" fill="#eef2f8"/>
<rect x="187.90" y="263.20" width="7.83" height="11.07" fill="#eef2f8"/>
<rect x="195.43" y="263.20" width="7.83" height="11.07" fill="#eef2f8"/>
<rect x="202.97" y="263.20" width="7.83" height="11.07" fill="#eef2f8"/>
<rect x="97.50" y="273.97" width="7.83" height="11.07" fill="#dee6f0"/>
<rect x="105.03" y="273.97" width="7.83" height="11.07" fill="#eef2f8"/>
<rect x="112.57" y="273.97" width="7.83" height="11.07" fill="#eef2f8"/>
<rect x="120.10" y="273.97" width="7.83" height="11.07" fill="#eef2f8"/>
<rect x="127.63" y="273.97" width="7.83" height="11.07" fill="#e7edf4"/>
<rect x="135.17" y="273.97" width="7.83" height="11.07" fill="#e3e9f2"/>
<rect x="142.70" y="273.97" width="7.83" height="11.07" fill="#bcc9df"/>
<rect x="150.23" y="273.97" width="7.83" height="11.07" fill="#dae3ee"/>
<rect x="157.77" y="273.97" width="7.83" height="11.07" fill="#eef2f8"/>
<rect x="165.30" y="273.97" width="7.83" height="11.07" fill="#e7edf4"/>
<rect x="172.83" y="273.97" width="7.83" height="11.07" fill="#d2dcea"/>
<rect x="180.37" y="273.97" width="7.83" height="11.07" fill="#d2dcea"/>
<rect x="187.90" y="273.97" width="7.83" height="11.07" fill="#d2dcea"/>
<rect x="195.43" y="273.97" width="7.83" height="11.07" fill="#d2dcea"/>
<rect x="202.97" y="273.97" width="7.83" height="11.07" fill="#c9d4e5"/>
<rect x="97.50" y="284.73" width="7.83" height="11.07" fill="#7655aa"/>
<rect x="105.03" y="284.73" width="7.83" height="11.07" fill="#754fa7"/>
<rect x="112.57" y="284.73" width="7.83" height="11.07" fill="#7d68b3"/>
<rect x="120.10" y="284.73" width="7.83" height="11.07" fill="#70309c"/>
<rect x="127.63" y="284.73" width="7.83" height="11.07" fill="#754fa7"/>
<rect x="135.17" y="284.73" width="7.83" height="11.07" fill="#7655aa"/>
<rect x="142.70" y="284.73" width="7.83" height="11.07" fill="#8a88c0"/>
<rect x="150.23" y="284.73" width="7.83" height="11.07" fill="#8070b6"/>
<rect x="157.77" y="284.73" width="7.83" height="11.07" fill="#70399f"/>
<rect x="165.30" y="284.73" width="7.83" height="11.07" fill="#9198c8"/>
<rect x="172.83" y="284.73" width="7.83" height="11.07" fill="#7655aa"/>
<rect x="180.37" y="284.73" width="7.83" height="11.07" fill="#8a88c0"/>
<rect x="187.90" y="284.73" width="7.83" height="11.07" fill="#7655aa"/>
<rect x="195.43" y="284.73" width="7.83" height="11.07" fill="#8f93c5"/>
<rect x="202.97" y="284.73" width="7.83" height="11.07" fill="#8478ba"/>
<path d="M105.03 166.30V295.50M112.57 166.30V295.50M120.10 166.30V295.50M127.63 166.30V295.50M135.17 166.30V295.50M142.70 166.30V295.50M150.23 166.30V295.50M157.77 166.30V295.50M165.30 166.30V295.50M172.83 166.30V295.50M180.37 166.30V295.50M187.90 166.30V295.50M195.43 166.30V295.50M202.97 166.30V295.50M97.50 177.07H210.50M97.50 187.83H210.50M97.50 198.60H210.50M97.50 209.37H210.50M97.50 220.13H210.50M97.50 230.90H210.50M97.50 241.67H210.50M97.50 252.43H210.50M97.50 263.20H210.50M97.50 273.97H210.50M97.50 284.73H210.50" stroke="#fff" stroke-opacity="0.3" stroke-width="0.6" fill="none"/>
<rect x="97.5" y="166.3" width="113.0" height="129.2" fill="none" stroke="#303030" stroke-width="1.2"/>
<text x="154.0" y="161.10000000000002" font-size="10.7" text-anchor="middle" fill="#111" stroke="#111" stroke-width="0.28">Finland</text>
<line x1="101.27" y1="295.5" x2="101.27" y2="300.8" stroke="#444" stroke-width="0.9"/>
<line x1="108.80" y1="295.5" x2="108.80" y2="300.8" stroke="#444" stroke-width="0.9"/>
<line x1="116.33" y1="295.5" x2="116.33" y2="300.8" stroke="#444" stroke-width="0.9"/>
<line x1="123.87" y1="295.5" x2="123.87" y2="300.8" stroke="#444" stroke-width="0.9"/>
<line x1="131.40" y1="295.5" x2="131.40" y2="300.8" stroke="#444" stroke-width="0.9"/>
<line x1="138.93" y1="295.5" x2="138.93" y2="300.8" stroke="#444" stroke-width="0.9"/>
<line x1="146.47" y1="295.5" x2="146.47" y2="300.8" stroke="#444" stroke-width="0.9"/>
<line x1="154.00" y1="295.5" x2="154.00" y2="300.8" stroke="#444" stroke-width="0.9"/>
<line x1="161.53" y1="295.5" x2="161.53" y2="300.8" stroke="#444" stroke-width="0.9"/>
<line x1="169.07" y1="295.5" x2="169.07" y2="300.8" stroke="#444" stroke-width="0.9"/>
<line x1="176.60" y1="295.5" x2="176.60" y2="300.8" stroke="#444" stroke-width="0.9"/>
<line x1="184.13" y1="295.5" x2="184.13" y2="300.8" stroke="#444" stroke-width="0.9"/>
<line x1="191.67" y1="295.5" x2="191.67" y2="300.8" stroke="#444" stroke-width="0.9"/>
<line x1="199.20" y1="295.5" x2="199.20" y2="300.8" stroke="#444" stroke-width="0.9"/>
<line x1="206.73" y1="295.5" x2="206.73" y2="300.8" stroke="#444" stroke-width="0.9"/>
<text x="101.27" y="313.6" font-size="10.5" text-anchor="middle" fill="#111" stroke="#111" stroke-width="0.27">5</text>
<text x="138.93" y="313.6" font-size="10.5" text-anchor="middle" fill="#111" stroke="#111" stroke-width="0.27">10</text>
<text x="176.60" y="313.6" font-size="10.5" text-anchor="middle" fill="#111" stroke="#111" stroke-width="0.27">15</text>
<text x="87.6" y="175.10" font-size="10.6" text-anchor="end" fill="#52678f" stroke="#52678f" stroke-width="0.275"><tspan fill="#111" letter-spacing="0.6" stroke="#111" stroke-width="0.28"></tspan>Roseburia</text>
<text x="87.6" y="185.87" font-size="10.6" text-anchor="end" fill="#52678f" stroke="#52678f" stroke-width="0.275"><tspan fill="#111" letter-spacing="0.6" stroke="#111" stroke-width="0.28"></tspan>Eubacterium</text>
<text x="87.6" y="196.63" font-size="10.6" text-anchor="end" fill="#52678f" stroke="#52678f" stroke-width="0.275"><tspan fill="#111" letter-spacing="0.6" stroke="#111" stroke-width="0.28">*</tspan>Akkermansia</text>
<text x="87.6" y="207.40" font-size="10.6" text-anchor="end" fill="#111" stroke="#111" stroke-width="0.275"><tspan fill="#111" letter-spacing="0.6" stroke="#111" stroke-width="0.28"></tspan>Serratia</text>
<text x="87.6" y="218.17" font-size="10.6" text-anchor="end" fill="#52678f" stroke="#52678f" stroke-width="0.275"><tspan fill="#111" letter-spacing="0.6" stroke="#111" stroke-width="0.28">***</tspan>Streptococcus</text>
<text x="87.6" y="228.93" font-size="10.6" text-anchor="end" fill="#111" stroke="#111" stroke-width="0.275"><tspan fill="#111" letter-spacing="0.6" stroke="#111" stroke-width="0.28"></tspan>Escherichia</text>
<text x="87.6" y="239.70" font-size="10.6" text-anchor="end" fill="#111" stroke="#111" stroke-width="0.275"><tspan fill="#111" letter-spacing="0.6" stroke="#111" stroke-width="0.28"></tspan>Ruminococcus</text>
<text x="87.6" y="250.47" font-size="10.6" text-anchor="end" fill="#111" stroke="#111" stroke-width="0.275"><tspan fill="#111" letter-spacing="0.6" stroke="#111" stroke-width="0.28">*</tspan>Faecalibacterium</text>
<text x="87.6" y="261.23" font-size="10.6" text-anchor="end" fill="#111" stroke="#111" stroke-width="0.275"><tspan fill="#111" letter-spacing="0.6" stroke="#111" stroke-width="0.28">**</tspan>Veillonella</text>
<text x="87.6" y="272.00" font-size="10.6" text-anchor="end" fill="#111" stroke="#111" stroke-width="0.275"><tspan fill="#111" letter-spacing="0.6" stroke="#111" stroke-width="0.28">*</tspan>Bifidobacterium</text>
<text x="87.6" y="282.77" font-size="10.6" text-anchor="end" fill="#111" stroke="#111" stroke-width="0.275"><tspan fill="#111" letter-spacing="0.6" stroke="#111" stroke-width="0.28"></tspan>Clostridium</text>
<text x="87.6" y="293.53" font-size="10.6" text-anchor="end" fill="#111" stroke="#111" stroke-width="0.275"><tspan fill="#111" letter-spacing="0.6" stroke="#111" stroke-width="0.28">*</tspan>Bacteroides</text>
<rect x="215.50" y="166.30" width="7.83" height="11.07" fill="#f6f8fc"/>
<rect x="223.03" y="166.30" width="7.83" height="11.07" fill="#f6f8fc"/>
<rect x="230.57" y="166.30" width="7.83" height="11.07" fill="#f6f8fc"/>
<rect x="238.10" y="166.30" width="7.83" height="11.07" fill="#f6f8fc"/>
<rect x="245.63" y="166.30" width="7.83" height="11.07" fill="#f6f8fc"/>
<rect x="253.17" y="166.30" width="7.83" height="11.07" fill="#f6f8fc"/>
<rect x="260.70" y="166.30" width="7.83" height="11.07" fill="#f3f7fb"/>
<rect x="268.23" y="166.30" width="7.83" height="11.07" fill="#f3f7fb"/>
<rect x="275.77" y="166.30" width="7.83" height="11.07" fill="#f6f8fc"/>
<rect x="283.30" y="166.30" width="7.83" height="11.07" fill="#f6f8fc"/>
<rect x="290.83" y="166.30" width="7.83" height="11.07" fill="#f6f8fc"/>
<rect x="298.37" y="166.30" width="7.83" height="11.07" fill="#f3f7fb"/>
<rect x="305.90" y="166.30" width="7.83" height="11.07" fill="#f6f8fc"/>
<rect x="313.43" y="166.30" width="7.83" height="11.07" fill="#f6f8fc"/>
<rect x="320.97" y="166.30" width="7.83" height="11.07" fill="#f6f8fc"/>
<rect x="215.50" y="177.07" width="7.83" height="11.07" fill="#f6f8fc"/>
<rect x="223.03" y="177.07" width="7.83" height="11.07" fill="#f6f8fc"/>
<rect x="230.57" y="177.07" width="7.83" height="11.07" fill="#f6f8fc"/>
<rect x="238.10" y="177.07" width="7.83" height="11.07" fill="#f6f8fc"/>
<rect x="245.63" y="177.07" width="7.83" height="11.07" fill="#f6f8fc"/>
<rect x="253.17" y="177.07" width="7.83" height="11.07" fill="#f3f7fb"/>
<rect x="260.70" y="177.07" width="7.83" height="11.07" fill="#ecf0f6"/>
<rect x="268.23" y="177.07" width="7.83" height="11.07" fill="#ecf0f6"/>
<rect x="275.77" y="177.07" width="7.83" height="11.07" fill="#f3f7fb"/>
<rect x="283.30" y="177.07" width="7.83" height="11.07" fill="#ecf0f6"/>
<rect x="290.83" y="177.07" width="7.83" height="11.07" fill="#ecf0f6"/>
<rect x="298.37" y="177.07" width="7.83" height="11.07" fill="#f3f7fb"/>
<rect x="305.90" y="177.07" width="7.83" height="11.07" fill="#f1f5f9"/>
<rect x="313.43" y="177.07" width="7.83" height="11.07" fill="#f3f7fb"/>
<rect x="320.97" y="177.07" width="7.83" height="11.07" fill="#f6f8fc"/>
<rect x="215.50" y="187.83" width="7.83" height="11.07" fill="#f6f8fc"/>
<rect x="223.03" y="187.83" width="7.83" height="11.07" fill="#f6f8fc"/>
<rect x="230.57" y="187.83" width="7.83" height="11.07" fill="#f6f8fc"/>
<rect x="238.10" y="187.83" width="7.83" height="11.07" fill="#f6f8fc"/>
<rect x="245.63" y="187.83" width="7.83" height="11.07" fill="#f6f8fc"/>
<rect x="253.17" y="187.83" width="7.83" height="11.07" fill="#f3f7fb"/>
<rect x="260.70" y="187.83" width="7.83" height="11.07" fill="#f3f7fb"/>
<rect x="268.23" y="187.83" width="7.83" height="11.07" fill="#f3f7fb"/>
<rect x="275.77" y="187.83" width="7.83" height="11.07" fill="#f3f7fb"/>
<rect x="283.30" y="187.83" width="7.83" height="11.07" fill="#f3f7fb"/>
<rect x="290.83" y="187.83" width="7.83" height="11.07" fill="#f3f7fb"/>
<rect x="298.37" y="187.83" width="7.83" height="11.07" fill="#f3f7fb"/>
<rect x="305.90" y="187.83" width="7.83" height="11.07" fill="#ecf0f6"/>
<rect x="313.43" y="187.83" width="7.83" height="11.07" fill="#ecf0f6"/>
<rect x="320.97" y="187.83" width="7.83" height="11.07" fill="#f3f7fb"/>
<rect x="215.50" y="198.60" width="7.83" height="11.07" fill="#f3f7fb"/>
<rect x="223.03" y="198.60" width="7.83" height="11.07" fill="#e8eef5"/>
<rect x="230.57" y="198.60" width="7.83" height="11.07" fill="#e8eef5"/>
<rect x="238.10" y="198.60" width="7.83" height="11.07" fill="#e8eef5"/>
<rect x="245.63" y="198.60" width="7.83" height="11.07" fill="#ecf0f6"/>
<rect x="253.17" y="198.60" width="7.83" height="11.07" fill="#f3f7fb"/>
<rect x="260.70" y="198.60" width="7.83" height="11.07" fill="#f3f7fb"/>
<rect x="268.23" y="198.60" width="7.83" height="11.07" fill="#f3f7fb"/>
<rect x="275.77" y="198.60" width="7.83" height="11.07" fill="#f3f7fb"/>
<rect x="283.30" y="198.60" width="7.83" height="11.07" fill="#f3f7fb"/>
<rect x="290.83" y="198.60" width="7.83" height="11.07" fill="#f3f7fb"/>
<rect x="298.37" y="198.60" width="7.83" height="11.07" fill="#f3f7fb"/>
<rect x="305.90" y="198.60" width="7.83" height="11.07" fill="#f3f7fb"/>
<rect x="313.43" y="198.60" width="7.83" height="11.07" fill="#f3f7fb"/>
<rect x="320.97" y="198.60" width="7.83" height="11.07" fill="#f3f7fb"/>
<rect x="215.50" y="209.37" width="7.83" height="11.07" fill="#f1f5f9"/>
<rect x="223.03" y="209.37" width="7.83" height="11.07" fill="#f3f7fb"/>
<rect x="230.57" y="209.37" width="7.83" height="11.07" fill="#f3f7fb"/>
<rect x="238.10" y="209.37" width="7.83" height="11.07" fill="#f3f7fb"/>
<rect x="245.63" y="209.37" width="7.83" height="11.07" fill="#f3f7fb"/>
<rect x="253.17" y="209.37" width="7.83" height="11.07" fill="#f3f7fb"/>
<rect x="260.70" y="209.37" width="7.83" height="11.07" fill="#f3f7fb"/>
<rect x="268.23" y="209.37" width="7.83" height="11.07" fill="#f3f7fb"/>
<rect x="275.77" y="209.37" width="7.83" height="11.07" fill="#eef3f8"/>
<rect x="283.30" y="209.37" width="7.83" height="11.07" fill="#f3f7fb"/>
<rect x="290.83" y="209.37" width="7.83" height="11.07" fill="#f3f7fb"/>
<rect x="298.37" y="209.37" width="7.83" height="11.07" fill="#f3f7fb"/>
<rect x="305.90" y="209.37" width="7.83" height="11.07" fill="#f3f7fb"/>
<rect x="313.43" y="209.37" width="7.83" height="11.07" fill="#f3f7fb"/>
<rect x="320.97" y="209.37" width="7.83" height="11.07" fill="#f3f7fb"/>
<rect x="215.50" y="220.13" width="7.83" height="11.07" fill="#f1f5f9"/>
<rect x="223.03" y="220.13" width="7.83" height="11.07" fill="#d7e0ec"/>
<rect x="230.57" y="220.13" width="7.83" height="11.07" fill="#d7e0ec"/>
<rect x="238.10" y="220.13" width="7.83" height="11.07" fill="#d7e0ec"/>
<rect x="245.63" y="220.13" width="7.83" height="11.07" fill="#ecf0f6"/>
<rect x="253.17" y="220.13" width="7.83" height="11.07" fill="#f3f7fb"/>
<rect x="260.70" y="220.13" width="7.83" height="11.07" fill="#f3f7fb"/>
<rect x="268.23" y="220.13" width="7.83" height="11.07" fill="#f3f7fb"/>
<rect x="275.77" y="220.13" width="7.83" height="11.07" fill="#f3f7fb"/>
<rect x="283.30" y="220.13" width="7.83" height="11.07" fill="#f3f7fb"/>
<rect x="290.83" y="220.13" width="7.83" height="11.07" fill="#f3f7fb"/>
<rect x="298.37" y="220.13" width="7.83" height="11.07" fill="#f3f7fb"/>
<rect x="305.90" y="220.13" width="7.83" height="11.07" fill="#f3f7fb"/>
<rect x="313.43" y="220.13" width="7.83" height="11.07" fill="#f3f7fb"/>
<rect x="320.97" y="220.13" width="7.83" height="11.07" fill="#f3f7fb"/>
<rect x="215.50" y="230.90" width="7.83" height="11.07" fill="#eef2f8"/>
<rect x="223.03" y="230.90" width="7.83" height="11.07" fill="#e7edf4"/>
<rect x="230.57" y="230.90" width="7.83" height="11.07" fill="#ebf0f6"/>
<rect x="238.10" y="230.90" width="7.83" height="11.07" fill="#ebf0f6"/>
<rect x="245.63" y="230.90" width="7.83" height="11.07" fill="#ebf0f6"/>
<rect x="253.17" y="230.90" width="7.83" height="11.07" fill="#ebf0f6"/>
<rect x="260.70" y="230.90" width="7.83" height="11.07" fill="#ebf0f6"/>
<rect x="268.23" y="230.90" width="7.83" height="11.07" fill="#e3e9f2"/>
<rect x="275.77" y="230.90" width="7.83" height="11.07" fill="#e3e9f2"/>
<rect x="283.30" y="230.90" width="7.83" height="11.07" fill="#e3e9f2"/>
<rect x="290.83" y="230.90" width="7.83" height="11.07" fill="#e3e9f2"/>
<rect x="298.37" y="230.90" width="7.83" height="11.07" fill="#e3e9f2"/>
<rect x="305.90" y="230.90" width="7.83" height="11.07" fill="#e3e9f2"/>
<rect x="313.43" y="230.90" width="7.83" height="11.07" fill="#e3e9f2"/>
<rect x="320.97" y="230.90" width="7.83" height="11.07" fill="#e7edf4"/>
<rect x="215.50" y="241.67" width="7.83" height="11.07" fill="#f5f8fb"/>
<rect x="223.03" y="241.67" width="7.83" height="11.07" fill="#f5f8fb"/>
<rect x="230.57" y="241.67" width="7.83" height="11.07" fill="#f5f8fb"/>
<rect x="238.10" y="241.67" width="7.83" height="11.07" fill="#eef2f8"/>
<rect x="245.63" y="241.67" width="7.83" height="11.07" fill="#eef2f8"/>
<rect x="253.17" y="241.67" width="7.83" height="11.07" fill="#bcc9df"/>
<rect x="260.70" y="241.67" width="7.83" height="11.07" fill="#c9d4e5"/>
<rect x="268.23" y="241.67" width="7.83" height="11.07" fill="#c9d4e5"/>
<rect x="275.77" y="241.67" width="7.83" height="11.07" fill="#bcc9df"/>
<rect x="283.30" y="241.67" width="7.83" height="11.07" fill="#c4d0e2"/>
<rect x="290.83" y="241.67" width="7.83" height="11.07" fill="#c4d0e2"/>
<rect x="298.37" y="241.67" width="7.83" height="11.07" fill="#9cacd2"/>
<rect x="305.90" y="241.67" width="7.83" height="11.07" fill="#c4d0e2"/>
<rect x="313.43" y="241.67" width="7.83" height="11.07" fill="#c9d4e5"/>
<rect x="320.97" y="241.67" width="7.83" height="11.07" fill="#c0cce0"/>
<rect x="215.50" y="252.43" width="7.83" height="11.07" fill="#acbbd9"/>
<rect x="223.03" y="252.43" width="7.83" height="11.07" fill="#bcc9df"/>
<rect x="230.57" y="252.43" width="7.83" height="11.07" fill="#c4d0e2"/>
<rect x="238.10" y="252.43" width="7.83" height="11.07" fill="#bcc9df"/>
<rect x="245.63" y="252.43" width="7.83" height="11.07" fill="#bcc9df"/>
<rect x="253.17" y="252.43" width="7.83" height="11.07" fill="#e3e9f2"/>
<rect x="260.70" y="252.43" width="7.83" height="11.07" fill="#e7edf4"/>
<rect x="268.23" y="252.43" width="7.83" height="11.07" fill="#ebf0f6"/>
<rect x="275.77" y="252.43" width="7.83" height="11.07" fill="#ebf0f6"/>
<rect x="283.30" y="252.43" width="7.83" height="11.07" fill="#ebf0f6"/>
<rect x="290.83" y="252.43" width="7.83" height="11.07" fill="#ebf0f6"/>
<rect x="298.37" y="252.43" width="7.83" height="11.07" fill="#ebf0f6"/>
<rect x="305.90" y="252.43" width="7.83" height="11.07" fill="#ebf0f6"/>
<rect x="313.43" y="252.43" width="7.83" height="11.07" fill="#ebf0f6"/>
<rect x="320.97" y="252.43" width="7.83" height="11.07" fill="#ebf0f6"/>
<rect x="215.50" y="263.20" width="7.83" height="11.07" fill="#c4d0e2"/>
<rect x="223.03" y="263.20" width="7.83" height="11.07" fill="#c4d0e2"/>
<rect x="230.57" y="263.20" width="7.83" height="11.07" fill="#d2dcea"/>
<rect x="238.10" y="263.20" width="7.83" height="11.07" fill="#d2dcea"/>
<rect x="245.63" y="263.20" width="7.83" height="11.07" fill="#d6dfec"/>
<rect x="253.17" y="263.20" width="7.83" height="11.07" fill="#c0cce0"/>
<rect x="260.70" y="263.20" width="7.83" height="11.07" fill="#dee6f0"/>
<rect x="268.23" y="263.20" width="7.83" height="11.07" fill="#e7edf4"/>
<rect x="275.77" y="263.20" width="7.83" height="11.07" fill="#ebf0f6"/>
<rect x="283.30" y="263.20" width="7.83" height="11.07" fill="#ebf0f6"/>
<rect x="290.83" y="263.20" width="7.83" height="11.07" fill="#ebf0f6"/>
<rect x="298.37" y="263.20" width="7.83" height="11.07" fill="#ebf0f6"/>
<rect x="305.90" y="263.20" width="7.83" height="11.07" fill="#e7edf4"/>
<rect x="313.43" y="263.20" width="7.83" height="11.07" fill="#e7edf4"/>
<rect x="320.97" y="263.20" width="7.83" height="11.07" fill="#ebf0f6"/>
<rect x="215.50" y="273.97" width="7.83" height="11.07" fill="#c9d4e5"/>
<rect x="223.03" y="273.97" width="7.83" height="11.07" fill="#e3e9f2"/>
<rect x="230.57" y="273.97" width="7.83" height="11.07" fill="#e3e9f2"/>
<rect x="238.10" y="273.97" width="7.83" height="11.07" fill="#e3e9f2"/>
<rect x="245.63" y="273.97" width="7.83" height="11.07" fill="#bcc9df"/>
<rect x="253.17" y="273.97" width="7.83" height="11.07" fill="#e3e9f2"/>
<rect x="260.70" y="273.97" width="7.83" height="11.07" fill="#dee6f0"/>
<rect x="268.23" y="273.97" width="7.83" height="11.07" fill="#dae3ee"/>
<rect x="275.77" y="273.97" width="7.83" height="11.07" fill="#d2dcea"/>
<rect x="283.30" y="273.97" width="7.83" height="11.07" fill="#d6dfec"/>
<rect x="290.83" y="273.97" width="7.83" height="11.07" fill="#d2dcea"/>
<rect x="298.37" y="273.97" width="7.83" height="11.07" fill="#d2dcea"/>
<rect x="305.90" y="273.97" width="7.83" height="11.07" fill="#d2dcea"/>
<rect x="313.43" y="273.97" width="7.83" height="11.07" fill="#c4d0e2"/>
<rect x="320.97" y="273.97" width="7.83" height="11.07" fill="#d2dcea"/>
<rect x="215.50" y="284.73" width="7.83" height="11.07" fill="#dee6f0"/>
<rect x="223.03" y="284.73" width="7.83" height="11.07" fill="#bcc9df"/>
<rect x="230.57" y="284.73" width="7.83" height="11.07" fill="#acbbd9"/>
<rect x="238.10" y="284.73" width="7.83" height="11.07" fill="#bcc9df"/>
<rect x="245.63" y="284.73" width="7.83" height="11.07" fill="#c4d0e2"/>
<rect x="253.17" y="284.73" width="7.83" height="11.07" fill="#c9d4e5"/>
<rect x="260.70" y="284.73" width="7.83" height="11.07" fill="#8780bd"/>
<rect x="268.23" y="284.73" width="7.83" height="11.07" fill="#acbbd9"/>
<rect x="275.77" y="284.73" width="7.83" height="11.07" fill="#d6dfec"/>
<rect x="283.30" y="284.73" width="7.83" height="11.07" fill="#8f93c5"/>
<rect x="290.83" y="284.73" width="7.83" height="11.07" fill="#c4d0e2"/>
<rect x="298.37" y="284.73" width="7.83" height="11.07" fill="#bcc9df"/>
<rect x="305.90" y="284.73" width="7.83" height="11.07" fill="#bcc9df"/>
<rect x="313.43" y="284.73" width="7.83" height="11.07" fill="#c4d0e2"/>
<rect x="320.97" y="284.73" width="7.83" height="11.07" fill="#7655aa"/>
<path d="M223.03 166.30V295.50M230.57 166.30V295.50M238.10 166.30V295.50M245.63 166.30V295.50M253.17 166.30V295.50M260.70 166.30V295.50M268.23 166.30V295.50M275.77 166.30V295.50M283.30 166.30V295.50M290.83 166.30V295.50M298.37 166.30V295.50M305.90 166.30V295.50M313.43 166.30V295.50M320.97 166.30V295.50M215.50 177.07H328.50M215.50 187.83H328.50M215.50 198.60H328.50M215.50 209.37H328.50M215.50 220.13H328.50M215.50 230.90H328.50M215.50 241.67H328.50M215.50 252.43H328.50M215.50 263.20H328.50M215.50 273.97H328.50M215.50 284.73H328.50" stroke="#fff" stroke-opacity="0.3" stroke-width="0.6" fill="none"/>
<rect x="215.5" y="166.3" width="113.0" height="129.2" fill="none" stroke="#303030" stroke-width="1.2"/>
<text x="272.0" y="161.10000000000002" font-size="10.7" text-anchor="middle" fill="#111" stroke="#111" stroke-width="0.28">Germany</text>
<line x1="219.27" y1="295.5" x2="219.27" y2="300.8" stroke="#444" stroke-width="0.9"/>
<line x1="226.80" y1="295.5" x2="226.80" y2="300.8" stroke="#444" stroke-width="0.9"/>
<line x1="234.33" y1="295.5" x2="234.33" y2="300.8" stroke="#444" stroke-width="0.9"/>
<line x1="241.87" y1="295.5" x2="241.87" y2="300.8" stroke="#444" stroke-width="0.9"/>
<line x1="249.40" y1="295.5" x2="249.40" y2="300.8" stroke="#444" stroke-width="0.9"/>
<line x1="256.93" y1="295.5" x2="256.93" y2="300.8" stroke="#444" stroke-width="0.9"/>
<line x1="264.47" y1="295.5" x2="264.47" y2="300.8" stroke="#444" stroke-width="0.9"/>
<line x1="272.00" y1="295.5" x2="272.00" y2="300.8" stroke="#444" stroke-width="0.9"/>
<line x1="279.53" y1="295.5" x2="279.53" y2="300.8" stroke="#444" stroke-width="0.9"/>
<line x1="287.07" y1="295.5" x2="287.07" y2="300.8" stroke="#444" stroke-width="0.9"/>
<line x1="294.60" y1="295.5" x2="294.60" y2="300.8" stroke="#444" stroke-width="0.9"/>
<line x1="302.13" y1="295.5" x2="302.13" y2="300.8" stroke="#444" stroke-width="0.9"/>
<line x1="309.67" y1="295.5" x2="309.67" y2="300.8" stroke="#444" stroke-width="0.9"/>
<line x1="317.20" y1="295.5" x2="317.20" y2="300.8" stroke="#444" stroke-width="0.9"/>
<line x1="324.73" y1="295.5" x2="324.73" y2="300.8" stroke="#444" stroke-width="0.9"/>
<text x="219.27" y="313.6" font-size="10.5" text-anchor="middle" fill="#111" stroke="#111" stroke-width="0.27">5</text>
<text x="256.93" y="313.6" font-size="10.5" text-anchor="middle" fill="#111" stroke="#111" stroke-width="0.27">10</text>
<text x="294.60" y="313.6" font-size="10.5" text-anchor="middle" fill="#111" stroke="#111" stroke-width="0.27">15</text>
<rect x="333.80" y="166.30" width="7.83" height="11.07" fill="#f6f8fc"/>
<rect x="341.33" y="166.30" width="7.83" height="11.07" fill="#f6f8fc"/>
<rect x="348.87" y="166.30" width="7.83" height="11.07" fill="#f6f8fc"/>
<rect x="356.40" y="166.30" width="7.83" height="11.07" fill="#f6f8fc"/>
<rect x="363.93" y="166.30" width="7.83" height="11.07" fill="#f6f8fc"/>
<rect x="371.47" y="166.30" width="7.83" height="11.07" fill="#f6f8fc"/>
<rect x="379.00" y="166.30" width="7.83" height="11.07" fill="#f6f8fc"/>
<rect x="386.53" y="166.30" width="7.83" height="11.07" fill="#f6f8fc"/>
<rect x="394.07" y="166.30" width="7.83" height="11.07" fill="#f6f8fc"/>
<rect x="401.60" y="166.30" width="7.83" height="11.07" fill="#f6f8fc"/>
<rect x="409.13" y="166.30" width="7.83" height="11.07" fill="#f6f8fc"/>
<rect x="416.67" y="166.30" width="7.83" height="11.07" fill="#f6f8fc"/>
<rect x="424.20" y="166.30" width="7.83" height="11.07" fill="#f6f8fc"/>
<rect x="431.73" y="166.30" width="7.83" height="11.07" fill="#f6f8fc"/>
<rect x="439.27" y="166.30" width="7.83" height="11.07" fill="#f6f8fc"/>
<rect x="333.80" y="177.07" width="7.83" height="11.07" fill="#f6f8fc"/>
<rect x="341.33" y="177.07" width="7.83" height="11.07" fill="#f6f8fc"/>
<rect x="348.87" y="177.07" width="7.83" height="11.07" fill="#f6f8fc"/>
<rect x="356.40" y="177.07" width="7.83" height="11.07" fill="#f3f7fb"/>
<rect x="363.93" y="177.07" width="7.83" height="11.07" fill="#f3f7fb"/>
<rect x="371.47" y="177.07" width="7.83" height="11.07" fill="#f3f7fb"/>
<rect x="379.00" y="177.07" width="7.83" height="11.07" fill="#f1f5f9"/>
<rect x="386.53" y="177.07" width="7.83" height="11.07" fill="#f1f5f9"/>
<rect x="394.07" y="177.07" width="7.83" height="11.07" fill="#f1f5f9"/>
<rect x="401.60" y="177.07" width="7.83" height="11.07" fill="#f3f7fb"/>
<rect x="409.13" y="177.07" width="7.83" height="11.07" fill="#f3f7fb"/>
<rect x="416.67" y="177.07" width="7.83" height="11.07" fill="#f3f7fb"/>
<rect x="424.20" y="177.07" width="7.83" height="11.07" fill="#f3f7fb"/>
<rect x="431.73" y="177.07" width="7.83" height="11.07" fill="#f3f7fb"/>
<rect x="439.27" y="177.07" width="7.83" height="11.07" fill="#f3f7fb"/>
<rect x="333.80" y="187.83" width="7.83" height="11.07" fill="#f3f7fb"/>
<rect x="341.33" y="187.83" width="7.83" height="11.07" fill="#f3f7fb"/>
<rect x="348.87" y="187.83" width="7.83" height="11.07" fill="#f1f5f9"/>
<rect x="356.40" y="187.83" width="7.83" height="11.07" fill="#f1f5f9"/>
<rect x="363.93" y="187.83" width="7.83" height="11.07" fill="#f1f5f9"/>
<rect x="371.47" y="187.83" width="7.83" height="11.07" fill="#d6dfec"/>
<rect x="379.00" y="187.83" width="7.83" height="11.07" fill="#e0e7f1"/>
<rect x="386.53" y="187.83" width="7.83" height="11.07" fill="#f3f7fb"/>
<rect x="394.07" y="187.83" width="7.83" height="11.07" fill="#ecf0f6"/>
<rect x="401.60" y="187.83" width="7.83" height="11.07" fill="#d2dcea"/>
<rect x="409.13" y="187.83" width="7.83" height="11.07" fill="#ecf0f6"/>
<rect x="416.67" y="187.83" width="7.83" height="11.07" fill="#ecf0f6"/>
<rect x="424.20" y="187.83" width="7.83" height="11.07" fill="#f3f7fb"/>
<rect x="431.73" y="187.83" width="7.83" height="11.07" fill="#f3f7fb"/>
<rect x="439.27" y="187.83" width="7.83" height="11.07" fill="#f3f7fb"/>
<rect x="333.80" y="198.60" width="7.83" height="11.07" fill="#e8eef5"/>
<rect x="341.33" y="198.60" width="7.83" height="11.07" fill="#e8eef5"/>
<rect x="348.87" y="198.60" width="7.83" height="11.07" fill="#e8eef5"/>
<rect x="356.40" y="198.60" width="7.83" height="11.07" fill="#e8eef5"/>
<rect x="363.93" y="198.60" width="7.83" height="11.07" fill="#e8eef5"/>
<rect x="371.47" y="198.60" width="7.83" height="11.07" fill="#f1f5f9"/>
<rect x="379.00" y="198.60" width="7.83" height="11.07" fill="#ecf0f6"/>
<rect x="386.53" y="198.60" width="7.83" height="11.07" fill="#ecf0f6"/>
<rect x="394.07" y="198.60" width="7.83" height="11.07" fill="#f1f5f9"/>
<rect x="401.60" y="198.60" width="7.83" height="11.07" fill="#f1f5f9"/>
<rect x="409.13" y="198.60" width="7.83" height="11.07" fill="#f1f5f9"/>
<rect x="416.67" y="198.60" width="7.83" height="11.07" fill="#f1f5f9"/>
<rect x="424.20" y="198.60" width="7.83" height="11.07" fill="#f1f5f9"/>
<rect x="431.73" y="198.60" width="7.83" height="11.07" fill="#f1f5f9"/>
<rect x="439.27" y="198.60" width="7.83" height="11.07" fill="#f1f5f9"/>
<rect x="333.80" y="209.37" width="7.83" height="11.07" fill="#e4eaf3"/>
<rect x="341.33" y="209.37" width="7.83" height="11.07" fill="#e4eaf3"/>
<rect x="348.87" y="209.37" width="7.83" height="11.07" fill="#e4eaf3"/>
<rect x="356.40" y="209.37" width="7.83" height="11.07" fill="#e4eaf3"/>
<rect x="363.93" y="209.37" width="7.83" height="11.07" fill="#e4eaf3"/>
<rect x="371.47" y="209.37" width="7.83" height="11.07" fill="#eef3f8"/>
<rect x="379.00" y="209.37" width="7.83" height="11.07" fill="#e8eef5"/>
<rect x="386.53" y="209.37" width="7.83" height="11.07" fill="#eef3f8"/>
<rect x="394.07" y="209.37" width="7.83" height="11.07" fill="#eef3f8"/>
<rect x="401.60" y="209.37" width="7.83" height="11.07" fill="#eef3f8"/>
<rect x="409.13" y="209.37" width="7.83" height="11.07" fill="#eef3f8"/>
<rect x="416.67" y="209.37" width="7.83" height="11.07" fill="#eef3f8"/>
<rect x="424.20" y="209.37" width="7.83" height="11.07" fill="#ecf0f6"/>
<rect x="431.73" y="209.37" width="7.83" height="11.07" fill="#eef3f8"/>
<rect x="439.27" y="209.37" width="7.83" height="11.07" fill="#eef3f8"/>
<rect x="333.80" y="220.13" width="7.83" height="11.07" fill="#e4eaf3"/>
<rect x="341.33" y="220.13" width="7.83" height="11.07" fill="#dbe4ef"/>
<rect x="348.87" y="220.13" width="7.83" height="11.07" fill="#dbe4ef"/>
<rect x="356.40" y="220.13" width="7.83" height="11.07" fill="#dbe4ef"/>
<rect x="363.93" y="220.13" width="7.83" height="11.07" fill="#e8eef5"/>
<rect x="371.47" y="220.13" width="7.83" height="11.07" fill="#f1f5f9"/>
<rect x="379.00" y="220.13" width="7.83" height="11.07" fill="#d7e0ec"/>
<rect x="386.53" y="220.13" width="7.83" height="11.07" fill="#d7e0ec"/>
<rect x="394.07" y="220.13" width="7.83" height="11.07" fill="#e8eef5"/>
<rect x="401.60" y="220.13" width="7.83" height="11.07" fill="#e8eef5"/>
<rect x="409.13" y="220.13" width="7.83" height="11.07" fill="#e8eef5"/>
<rect x="416.67" y="220.13" width="7.83" height="11.07" fill="#f1f5f9"/>
<rect x="424.20" y="220.13" width="7.83" height="11.07" fill="#f1f5f9"/>
<rect x="431.73" y="220.13" width="7.83" height="11.07" fill="#f1f5f9"/>
<rect x="439.27" y="220.13" width="7.83" height="11.07" fill="#f1f5f9"/>
<rect x="333.80" y="230.90" width="7.83" height="11.07" fill="#ebf0f6"/>
<rect x="341.33" y="230.90" width="7.83" height="11.07" fill="#ebf0f6"/>
<rect x="348.87" y="230.90" width="7.83" height="11.07" fill="#e3e9f2"/>
<rect x="356.40" y="230.90" width="7.83" height="11.07" fill="#e3e9f2"/>
<rect x="363.93" y="230.90" width="7.83" height="11.07" fill="#e3e9f2"/>
<rect x="371.47" y="230.90" width="7.83" height="11.07" fill="#e3e9f2"/>
<rect x="379.00" y="230.90" width="7.83" height="11.07" fill="#ebf0f6"/>
<rect x="386.53" y="230.90" width="7.83" height="11.07" fill="#d2dcea"/>
<rect x="394.07" y="230.90" width="7.83" height="11.07" fill="#d2dcea"/>
<rect x="401.60" y="230.90" width="7.83" height="11.07" fill="#e3e9f2"/>
<rect x="409.13" y="230.90" width="7.83" height="11.07" fill="#e3e9f2"/>
<rect x="416.67" y="230.90" width="7.83" height="11.07" fill="#d6dfec"/>
<rect x="424.20" y="230.90" width="7.83" height="11.07" fill="#e3e9f2"/>
<rect x="431.73" y="230.90" width="7.83" height="11.07" fill="#e7edf4"/>
<rect x="439.27" y="230.90" width="7.83" height="11.07" fill="#d6dfec"/>
<rect x="333.80" y="241.67" width="7.83" height="11.07" fill="#f2f5fa"/>
<rect x="341.33" y="241.67" width="7.83" height="11.07" fill="#f2f5fa"/>
<rect x="348.87" y="241.67" width="7.83" height="11.07" fill="#f2f5fa"/>
<rect x="356.40" y="241.67" width="7.83" height="11.07" fill="#f2f5fa"/>
<rect x="363.93" y="241.67" width="7.83" height="11.07" fill="#f2f5fa"/>
<rect x="371.47" y="241.67" width="7.83" height="11.07" fill="#f2f5fa"/>
<rect x="379.00" y="241.67" width="7.83" height="11.07" fill="#f2f5fa"/>
<rect x="386.53" y="241.67" width="7.83" height="11.07" fill="#eef2f8"/>
<rect x="394.07" y="241.67" width="7.83" height="11.07" fill="#ebf0f6"/>
<rect x="401.60" y="241.67" width="7.83" height="11.07" fill="#e3e9f2"/>
<rect x="409.13" y="241.67" width="7.83" height="11.07" fill="#dae3ee"/>
<rect x="416.67" y="241.67" width="7.83" height="11.07" fill="#d6dfec"/>
<rect x="424.20" y="241.67" width="7.83" height="11.07" fill="#c9d4e5"/>
<rect x="431.73" y="241.67" width="7.83" height="11.07" fill="#ebf0f6"/>
<rect x="439.27" y="241.67" width="7.83" height="11.07" fill="#eef2f8"/>
<rect x="333.80" y="252.43" width="7.83" height="11.07" fill="#f2f5fa"/>
<rect x="341.33" y="252.43" width="7.83" height="11.07" fill="#dee6f0"/>
<rect x="348.87" y="252.43" width="7.83" height="11.07" fill="#e3e9f2"/>
<rect x="356.40" y="252.43" width="7.83" height="11.07" fill="#c9d4e5"/>
<rect x="363.93" y="252.43" width="7.83" height="11.07" fill="#dae3ee"/>
<rect x="371.47" y="252.43" width="7.83" height="11.07" fill="#eef2f8"/>
<rect x="379.00" y="252.43" width="7.83" height="11.07" fill="#eef2f8"/>
<rect x="386.53" y="252.43" width="7.83" height="11.07" fill="#eef2f8"/>
<rect x="394.07" y="252.43" width="7.83" height="11.07" fill="#f2f5fa"/>
<rect x="401.60" y="252.43" width="7.83" height="11.07" fill="#f2f5fa"/>
<rect x="409.13" y="252.43" width="7.83" height="11.07" fill="#f2f5fa"/>
<rect x="416.67" y="252.43" width="7.83" height="11.07" fill="#f2f5fa"/>
<rect x="424.20" y="252.43" width="7.83" height="11.07" fill="#f2f5fa"/>
<rect x="431.73" y="252.43" width="7.83" height="11.07" fill="#f2f5fa"/>
<rect x="439.27" y="252.43" width="7.83" height="11.07" fill="#f2f5fa"/>
<rect x="333.80" y="263.20" width="7.83" height="11.07" fill="#8f93c5"/>
<rect x="341.33" y="263.20" width="7.83" height="11.07" fill="#8f93c5"/>
<rect x="348.87" y="263.20" width="7.83" height="11.07" fill="#acbbd9"/>
<rect x="356.40" y="263.20" width="7.83" height="11.07" fill="#bcc9df"/>
<rect x="363.93" y="263.20" width="7.83" height="11.07" fill="#ebf0f6"/>
<rect x="371.47" y="263.20" width="7.83" height="11.07" fill="#e3e9f2"/>
<rect x="379.00" y="263.20" width="7.83" height="11.07" fill="#e3e9f2"/>
<rect x="386.53" y="263.20" width="7.83" height="11.07" fill="#ebf0f6"/>
<rect x="394.07" y="263.20" width="7.83" height="11.07" fill="#e7edf4"/>
<rect x="401.60" y="263.20" width="7.83" height="11.07" fill="#e7edf4"/>
<rect x="409.13" y="263.20" width="7.83" height="11.07" fill="#e7edf4"/>
<rect x="416.67" y="263.20" width="7.83" height="11.07" fill="#e7edf4"/>
<rect x="424.20" y="263.20" width="7.83" height="11.07" fill="#e7edf4"/>
<rect x="431.73" y="263.20" width="7.83" height="11.07" fill="#e7edf4"/>
<rect x="439.27" y="263.20" width="7.83" height="11.07" fill="#e7edf4"/>
<rect x="333.80" y="273.97" width="7.83" height="11.07" fill="#c9d4e5"/>
<rect x="341.33" y="273.97" width="7.83" height="11.07" fill="#c9d4e5"/>
<rect x="348.87" y="273.97" width="7.83" height="11.07" fill="#d2dcea"/>
<rect x="356.40" y="273.97" width="7.83" height="11.07" fill="#d2dcea"/>
<rect x="363.93" y="273.97" width="7.83" height="11.07" fill="#c4d0e2"/>
<rect x="371.47" y="273.97" width="7.83" height="11.07" fill="#acbbd9"/>
<rect x="379.00" y="273.97" width="7.83" height="11.07" fill="#c9d4e5"/>
<rect x="386.53" y="273.97" width="7.83" height="11.07" fill="#c4d0e2"/>
<rect x="394.07" y="273.97" width="7.83" height="11.07" fill="#c4d0e2"/>
<rect x="401.60" y="273.97" width="7.83" height="11.07" fill="#bcc9df"/>
<rect x="409.13" y="273.97" width="7.83" height="11.07" fill="#c4d0e2"/>
<rect x="416.67" y="273.97" width="7.83" height="11.07" fill="#b4c2dc"/>
<rect x="424.20" y="273.97" width="7.83" height="11.07" fill="#c4d0e2"/>
<rect x="431.73" y="273.97" width="7.83" height="11.07" fill="#bcc9df"/>
<rect x="439.27" y="273.97" width="7.83" height="11.07" fill="#d2dcea"/>
<rect x="333.80" y="284.73" width="7.83" height="11.07" fill="#d2dcea"/>
<rect x="341.33" y="284.73" width="7.83" height="11.07" fill="#d2dcea"/>
<rect x="348.87" y="284.73" width="7.83" height="11.07" fill="#bcc9df"/>
<rect x="356.40" y="284.73" width="7.83" height="11.07" fill="#c9d4e5"/>
<rect x="363.93" y="284.73" width="7.83" height="11.07" fill="#96a3cd"/>
<rect x="371.47" y="284.73" width="7.83" height="11.07" fill="#b4c2dc"/>
<rect x="379.00" y="284.73" width="7.83" height="11.07" fill="#c4d0e2"/>
<rect x="386.53" y="284.73" width="7.83" height="11.07" fill="#bcc9df"/>
<rect x="394.07" y="284.73" width="7.83" height="11.07" fill="#c4d0e2"/>
<rect x="401.60" y="284.73" width="7.83" height="11.07" fill="#8f93c5"/>
<rect x="409.13" y="284.73" width="7.83" height="11.07" fill="#b4c2dc"/>
<rect x="416.67" y="284.73" width="7.83" height="11.07" fill="#c4d0e2"/>
<rect x="424.20" y="284.73" width="7.83" height="11.07" fill="#bcc9df"/>
<rect x="431.73" y="284.73" width="7.83" height="11.07" fill="#acbbd9"/>
<rect x="439.27" y="284.73" width="7.83" height="11.07" fill="#8780bd"/>
<path d="M341.33 166.30V295.50M348.87 166.30V295.50M356.40 166.30V295.50M363.93 166.30V295.50M371.47 166.30V295.50M379.00 166.30V295.50M386.53 166.30V295.50M394.07 166.30V295.50M401.60 166.30V295.50M409.13 166.30V295.50M416.67 166.30V295.50M424.20 166.30V295.50M431.73 166.30V295.50M439.27 166.30V295.50M333.80 177.07H446.80M333.80 187.83H446.80M333.80 198.60H446.80M333.80 209.37H446.80M333.80 220.13H446.80M333.80 230.90H446.80M333.80 241.67H446.80M333.80 252.43H446.80M333.80 263.20H446.80M333.80 273.97H446.80M333.80 284.73H446.80" stroke="#fff" stroke-opacity="0.3" stroke-width="0.6" fill="none"/>
<rect x="333.8" y="166.3" width="113.0" height="129.2" fill="none" stroke="#303030" stroke-width="1.2"/>
<text x="390.3" y="161.10000000000002" font-size="10.7" text-anchor="middle" fill="#111" stroke="#111" stroke-width="0.28">Sweden</text>
<line x1="337.57" y1="295.5" x2="337.57" y2="300.8" stroke="#444" stroke-width="0.9"/>
<line x1="345.10" y1="295.5" x2="345.10" y2="300.8" stroke="#444" stroke-width="0.9"/>
<line x1="352.63" y1="295.5" x2="352.63" y2="300.8" stroke="#444" stroke-width="0.9"/>
<line x1="360.17" y1="295.5" x2="360.17" y2="300.8" stroke="#444" stroke-width="0.9"/>
<line x1="367.70" y1="295.5" x2="367.70" y2="300.8" stroke="#444" stroke-width="0.9"/>
<line x1="375.23" y1="295.5" x2="375.23" y2="300.8" stroke="#444" stroke-width="0.9"/>
<line x1="382.77" y1="295.5" x2="382.77" y2="300.8" stroke="#444" stroke-width="0.9"/>
<line x1="390.30" y1="295.5" x2="390.30" y2="300.8" stroke="#444" stroke-width="0.9"/>
<line x1="397.83" y1="295.5" x2="397.83" y2="300.8" stroke="#444" stroke-width="0.9"/>
<line x1="405.37" y1="295.5" x2="405.37" y2="300.8" stroke="#444" stroke-width="0.9"/>
<line x1="412.90" y1="295.5" x2="412.90" y2="300.8" stroke="#444" stroke-width="0.9"/>
<line x1="420.43" y1="295.5" x2="420.43" y2="300.8" stroke="#444" stroke-width="0.9"/>
<line x1="427.97" y1="295.5" x2="427.97" y2="300.8" stroke="#444" stroke-width="0.9"/>
<line x1="435.50" y1="295.5" x2="435.50" y2="300.8" stroke="#444" stroke-width="0.9"/>
<line x1="443.03" y1="295.5" x2="443.03" y2="300.8" stroke="#444" stroke-width="0.9"/>
<text x="337.57" y="313.6" font-size="10.5" text-anchor="middle" fill="#111" stroke="#111" stroke-width="0.27">5</text>
<text x="375.23" y="313.6" font-size="10.5" text-anchor="middle" fill="#111" stroke="#111" stroke-width="0.27">10</text>
<text x="412.90" y="313.6" font-size="10.5" text-anchor="middle" fill="#111" stroke="#111" stroke-width="0.27">15</text>
<text x="272" y="325.8" font-size="10.7" text-anchor="middle" fill="#111" stroke="#111" stroke-width="0.28">Months after birth</text>
<rect x="466.4" y="227.18" width="22.6" height="1.32" fill="#f7f9fd"/>
<rect x="466.4" y="226.15" width="22.6" height="1.32" fill="#f6f8fc"/>
<rect x="466.4" y="225.13" width="22.6" height="1.32" fill="#f4f7fb"/>
<rect x="466.4" y="224.10" width="22.6" height="1.32" fill="#f2f6fa"/>
<rect x="466.4" y="223.08" width="22.6" height="1.32" fill="#f1f4f9"/>
<rect x="466.4" y="222.05" width="22.6" height="1.32" fill="#eff3f8"/>
<rect x="466.4" y="221.03" width="22.6" height="1.32" fill="#edf2f7"/>
<rect x="466.4" y="220.01" width="22.6" height="1.32" fill="#ecf1f6"/>
<rect x="466.4" y="218.98" width="22.6" height="1.32" fill="#eaeff5"/>
<rect x="466.4" y="217.96" width="22.6" height="1.32" fill="#e8edf4"/>
<rect x="466.4" y="216.93" width="22.6" height="1.32" fill="#e6ecf3"/>
<rect x="466.4" y="215.91" width="22.6" height="1.32" fill="#e3eaf2"/>
<rect x="466.4" y="214.89" width="22.6" height="1.32" fill="#e1e8f1"/>
<rect x="466.4" y="213.86" width="22.6" height="1.32" fill="#dfe7f0"/>
<rect x="466.4" y="212.84" width="22.6" height="1.32" fill="#dde5ef"/>
<rect x="466.4" y="211.81" width="22.6" height="1.32" fill="#dbe3ee"/>
<rect x="466.4" y="210.79" width="22.6" height="1.32" fill="#d9e2ed"/>
<rect x="466.4" y="209.76" width="22.6" height="1.32" fill="#d7e0ec"/>
<rect x="466.4" y="208.74" width="22.6" height="1.32" fill="#d5deeb"/>
<rect x="466.4" y="207.72" width="22.6" height="1.32" fill="#d3ddea"/>
<rect x="466.4" y="206.69" width="22.6" height="1.32" fill="#d0dbe9"/>
<rect x="466.4" y="205.67" width="22.6" height="1.32" fill="#ced9e8"/>
<rect x="466.4" y="204.64" width="22.6" height="1.32" fill="#ccd7e7"/>
<rect x="466.4" y="203.62" width="22.6" height="1.32" fill="#cad5e5"/>
<rect x="466.4" y="202.59" width="22.6" height="1.32" fill="#c7d3e4"/>
<rect x="466.4" y="201.57" width="22.6" height="1.32" fill="#c5d1e3"/>
<rect x="466.4" y="200.55" width="22.6" height="1.32" fill="#c3cfe2"/>
<rect x="466.4" y="199.52" width="22.6" height="1.32" fill="#c1cce0"/>
<rect x="466.4" y="198.50" width="22.6" height="1.32" fill="#becbdf"/>
<rect x="466.4" y="197.47" width="22.6" height="1.32" fill="#bcc9df"/>
<rect x="466.4" y="196.45" width="22.6" height="1.32" fill="#bac7de"/>
<rect x="466.4" y="195.42" width="22.6" height="1.32" fill="#b8c6dd"/>
<rect x="466.4" y="194.40" width="22.6" height="1.32" fill="#b6c4dd"/>
<rect x="466.4" y="193.38" width="22.6" height="1.32" fill="#b4c2dc"/>
<rect x="466.4" y="192.35" width="22.6" height="1.32" fill="#b2c1db"/>
<rect x="466.4" y="191.33" width="22.6" height="1.32" fill="#b0bfdb"/>
<rect x="466.4" y="190.30" width="22.6" height="1.32" fill="#aebdda"/>
<rect x="466.4" y="189.28" width="22.6" height="1.32" fill="#acbcd9"/>
<rect x="466.4" y="188.26" width="22.6" height="1.32" fill="#aabad9"/>
<rect x="466.4" y="187.23" width="22.6" height="1.32" fill="#a8b8d8"/>
<rect x="466.4" y="186.21" width="22.6" height="1.32" fill="#a6b6d7"/>
<rect x="466.4" y="185.18" width="22.6" height="1.32" fill="#a4b4d6"/>
<rect x="466.4" y="184.16" width="22.6" height="1.32" fill="#a2b2d5"/>
<rect x="466.4" y="183.13" width="22.6" height="1.32" fill="#a0b0d4"/>
<rect x="466.4" y="182.11" width="22.6" height="1.32" fill="#9eaed3"/>
<rect x="466.4" y="181.09" width="22.6" height="1.32" fill="#9cacd2"/>
<rect x="466.4" y="180.06" width="22.6" height="1.32" fill="#9aaad1"/>
<rect x="466.4" y="179.04" width="22.6" height="1.32" fill="#98a8d0"/>
<rect x="466.4" y="178.01" width="22.6" height="1.32" fill="#97a5cf"/>
<rect x="466.4" y="176.99" width="22.6" height="1.32" fill="#96a3cd"/>
<rect x="466.4" y="175.96" width="22.6" height="1.32" fill="#95a0cc"/>
<rect x="466.4" y="174.94" width="22.6" height="1.32" fill="#939dcb"/>
<rect x="466.4" y="173.92" width="22.6" height="1.32" fill="#929bc9"/>
<rect x="466.4" y="172.89" width="22.6" height="1.32" fill="#9198c8"/>
<rect x="466.4" y="171.87" width="22.6" height="1.32" fill="#9095c7"/>
<rect x="466.4" y="170.84" width="22.6" height="1.32" fill="#8f93c5"/>
<rect x="466.4" y="169.82" width="22.6" height="1.32" fill="#8d90c4"/>
<rect x="466.4" y="168.79" width="22.6" height="1.32" fill="#8c8dc3"/>
<rect x="466.4" y="167.77" width="22.6" height="1.32" fill="#8b8bc1"/>
<rect x="466.4" y="166.75" width="22.6" height="1.32" fill="#8a88c0"/>
<rect x="466.4" y="165.72" width="22.6" height="1.32" fill="#8884be"/>
<rect x="466.4" y="164.70" width="22.6" height="1.32" fill="#8780bd"/>
<rect x="466.4" y="163.67" width="22.6" height="1.32" fill="#857cbb"/>
<rect x="466.4" y="162.65" width="22.6" height="1.32" fill="#8378b9"/>
<rect x="466.4" y="161.63" width="22.6" height="1.32" fill="#8274b8"/>
<rect x="466.4" y="160.60" width="22.6" height="1.32" fill="#8070b6"/>
<rect x="466.4" y="159.58" width="22.6" height="1.32" fill="#7f6cb5"/>
<rect x="466.4" y="158.55" width="22.6" height="1.32" fill="#7d68b3"/>
<rect x="466.4" y="157.53" width="22.6" height="1.32" fill="#7b64b1"/>
<rect x="466.4" y="156.50" width="22.6" height="1.32" fill="#7a60b0"/>
<rect x="466.4" y="155.48" width="22.6" height="1.32" fill="#795dae"/>
<rect x="466.4" y="154.46" width="22.6" height="1.32" fill="#785aad"/>
<rect x="466.4" y="153.43" width="22.6" height="1.32" fill="#7757ab"/>
<rect x="466.4" y="152.41" width="22.6" height="1.32" fill="#7654aa"/>
<rect x="466.4" y="151.38" width="22.6" height="1.32" fill="#7551a9"/>
<rect x="466.4" y="150.36" width="22.6" height="1.32" fill="#744ea7"/>
<rect x="466.4" y="149.33" width="22.6" height="1.32" fill="#744ba6"/>
<rect x="466.4" y="148.31" width="22.6" height="1.32" fill="#7349a4"/>
<rect x="466.4" y="147.29" width="22.6" height="1.32" fill="#7246a3"/>
<rect x="466.4" y="146.26" width="22.6" height="1.32" fill="#7143a1"/>
<rect x="466.4" y="145.24" width="22.6" height="1.32" fill="#7040a0"/>
<rect x="466.4" y="144.21" width="22.6" height="1.32" fill="#703d9f"/>
<rect x="466.4" y="143.19" width="22.6" height="1.32" fill="#703b9f"/>
<rect x="466.4" y="142.16" width="22.6" height="1.32" fill="#70399e"/>
<rect x="466.4" y="141.14" width="22.6" height="1.32" fill="#70369e"/>
<rect x="466.4" y="140.12" width="22.6" height="1.32" fill="#70349d"/>
<rect x="466.4" y="139.09" width="22.6" height="1.32" fill="#70319d"/>
<rect x="466.4" y="138.07" width="22.6" height="1.32" fill="#702f9c"/>
<rect x="466.4" y="137.04" width="22.6" height="1.32" fill="#702c9c"/>
<rect x="466.4" y="136.02" width="22.6" height="1.32" fill="#702a9b"/>
<rect x="466.4" y="135.00" width="22.6" height="1.32" fill="#70289b"/>
<rect x="466.4" y="133.97" width="22.6" height="1.32" fill="#70259a"/>
<rect x="466.4" y="132.95" width="22.6" height="1.32" fill="#6f2398"/>
<rect x="466.4" y="131.92" width="22.6" height="1.32" fill="#6e2195"/>
<rect x="466.4" y="130.90" width="22.6" height="1.32" fill="#6c1f91"/>
<rect x="466.4" y="129.87" width="22.6" height="1.32" fill="#6b1e8e"/>
<rect x="466.4" y="128.85" width="22.6" height="1.32" fill="#6a1c8b"/>
<rect x="466.4" y="127.83" width="22.6" height="1.32" fill="#681a87"/>
<rect x="466.4" y="126.80" width="22.6" height="1.32" fill="#671884"/>
<rect x="466.4" y="125.78" width="22.6" height="1.32" fill="#661781"/>
<rect x="466.4" y="124.75" width="22.6" height="1.32" fill="#64157d"/>
<rect x="466.4" y="123.73" width="22.6" height="1.32" fill="#63137a"/>
<rect x="466.4" y="122.70" width="22.6" height="1.32" fill="#601175"/>
<rect x="466.4" y="121.68" width="22.6" height="1.32" fill="#5c0f6f"/>
<rect x="466.4" y="120.66" width="22.6" height="1.32" fill="#570c69"/>
<rect x="466.4" y="119.63" width="22.6" height="1.32" fill="#520a63"/>
<rect x="466.4" y="118.61" width="22.6" height="1.32" fill="#4e085d"/>
<rect x="466.4" y="117.58" width="22.6" height="1.32" fill="#490657"/>
<rect x="466.4" y="116.56" width="22.6" height="1.32" fill="#450351"/>
<rect x="466.4" y="115.53" width="22.6" height="1.32" fill="#40014b"/>
<line x1="466.4" y1="207.90" x2="470.4" y2="207.90" stroke="#fff" stroke-opacity="0.6" stroke-width="0.8"/>
<line x1="485.0" y1="207.90" x2="489.0" y2="207.90" stroke="#fff" stroke-opacity="0.6" stroke-width="0.8"/>
<line x1="466.4" y1="187.60" x2="470.4" y2="187.60" stroke="#fff" stroke-opacity="0.6" stroke-width="0.8"/>
<line x1="485.0" y1="187.60" x2="489.0" y2="187.60" stroke="#fff" stroke-opacity="0.6" stroke-width="0.8"/>
<line x1="466.4" y1="167.30" x2="470.4" y2="167.30" stroke="#fff" stroke-opacity="0.6" stroke-width="0.8"/>
<line x1="485.0" y1="167.30" x2="489.0" y2="167.30" stroke="#fff" stroke-opacity="0.6" stroke-width="0.8"/>
<line x1="466.4" y1="147.00" x2="470.4" y2="147.00" stroke="#fff" stroke-opacity="0.6" stroke-width="0.8"/>
<line x1="485.0" y1="147.00" x2="489.0" y2="147.00" stroke="#fff" stroke-opacity="0.6" stroke-width="0.8"/>
<line x1="466.4" y1="126.70" x2="470.4" y2="126.70" stroke="#fff" stroke-opacity="0.6" stroke-width="0.8"/>
<line x1="485.0" y1="126.70" x2="489.0" y2="126.70" stroke="#fff" stroke-opacity="0.6" stroke-width="0.8"/>
<text x="495.4" y="232.40" font-size="10.6" fill="#111" stroke="#111" stroke-width="0.275">0</text>
<text x="495.4" y="212.10" font-size="10.6" fill="#111" stroke="#111" stroke-width="0.275">10</text>
<text x="495.4" y="191.80" font-size="10.6" fill="#111" stroke="#111" stroke-width="0.275">20</text>
<text x="495.4" y="171.50" font-size="10.6" fill="#111" stroke="#111" stroke-width="0.275">30</text>
<text x="495.4" y="151.20" font-size="10.6" fill="#111" stroke="#111" stroke-width="0.275">40</text>
<text x="495.4" y="130.90" font-size="10.6" fill="#111" stroke="#111" stroke-width="0.275">50</text>
<text x="466.5" y="85.70" font-size="10.6" fill="#111" stroke="#111" stroke-width="0.275">Relative</text>
<text x="466.5" y="97.10" font-size="10.6" fill="#111" stroke="#111" stroke-width="0.275">abundance</text>
<text x="466.5" y="108.50" font-size="10.6" fill="#111" stroke="#111" stroke-width="0.275">(%)</text>
<text transform="translate(0.3 356.6) scale(0.97 1)" font-size="23.6" font-weight="bold" fill="#000" stroke="#000" stroke-width="0.28">B</text>
<rect x="70.40" y="545.00" width="2.26" height="19.30" fill="#bebebe" stroke="#6a6a6a" stroke-width="0.6"/>
<rect x="72.66" y="489.00" width="2.26" height="75.30" fill="#bebebe" stroke="#6a6a6a" stroke-width="0.6"/>
<rect x="74.92" y="443.00" width="2.26" height="121.30" fill="#bebebe" stroke="#6a6a6a" stroke-width="0.6"/>
<rect x="77.18" y="409.50" width="2.26" height="154.80" fill="#bebebe" stroke="#6a6a6a" stroke-width="0.6"/>
<rect x="79.44" y="389.70" width="2.26" height="174.60" fill="#bebebe" stroke="#6a6a6a" stroke-width="0.6"/>
<rect x="81.70" y="369.20" width="2.26" height="195.10" fill="#bebebe" stroke="#6a6a6a" stroke-width="0.6"/>
<rect x="83.96" y="357.50" width="2.26" height="206.80" fill="#bebebe" stroke="#6a6a6a" stroke-width="0.6"/>
<rect x="86.22" y="375.20" width="2.26" height="189.10" fill="#bebebe" stroke="#6a6a6a" stroke-width="0.6"/>
<rect x="88.48" y="391.70" width="2.26" height="172.60" fill="#bebebe" stroke="#6a6a6a" stroke-width="0.6"/>
<rect x="90.74" y="413.50" width="2.26" height="150.80" fill="#bebebe" stroke="#6a6a6a" stroke-width="0.6"/>
<rect x="93.00" y="417.00" width="2.26" height="147.30" fill="#bebebe" stroke="#6a6a6a" stroke-width="0.6"/>
<rect x="95.26" y="437.30" width="2.26" height="127.00" fill="#bebebe" stroke="#6a6a6a" stroke-width="0.6"/>
<rect x="97.52" y="441.30" width="2.26" height="123.00" fill="#bebebe" stroke="#6a6a6a" stroke-width="0.6"/>
<rect x="99.78" y="462.00" width="2.26" height="102.30" fill="#bebebe" stroke="#6a6a6a" stroke-width="0.6"/>
<rect x="102.04" y="471.20" width="2.26" height="93.10" fill="#bebebe" stroke="#6a6a6a" stroke-width="0.6"/>
<rect x="104.30" y="487.90" width="2.26" height="76.40" fill="#bebebe" stroke="#6a6a6a" stroke-width="0.6"/>
<rect x="106.56" y="497.60" width="2.26" height="66.70" fill="#bebebe" stroke="#6a6a6a" stroke-width="0.6"/>
<rect x="108.82" y="506.40" width="2.26" height="57.90" fill="#bebebe" stroke="#6a6a6a" stroke-width="0.6"/>
<rect x="111.08" y="517.50" width="2.26" height="46.80" fill="#bebebe" stroke="#6a6a6a" stroke-width="0.6"/>
<rect x="113.34" y="522.60" width="2.26" height="41.70" fill="#bebebe" stroke="#6a6a6a" stroke-width="0.6"/>
<rect x="115.60" y="528.00" width="2.26" height="36.30" fill="#bebebe" stroke="#6a6a6a" stroke-width="0.6"/>
<rect x="117.86" y="535.30" width="2.26" height="29.00" fill="#bebebe" stroke="#6a6a6a" stroke-width="0.6"/>
<rect x="120.12" y="539.30" width="2.26" height="25.00" fill="#bebebe" stroke="#6a6a6a" stroke-width="0.6"/>
<rect x="122.38" y="544.00" width="2.26" height="20.30" fill="#bebebe" stroke="#6a6a6a" stroke-width="0.6"/>
<rect x="124.64" y="544.20" width="2.26" height="20.10" fill="#bebebe" stroke="#6a6a6a" stroke-width="0.6"/>
<rect x="126.90" y="548.30" width="2.26" height="16.00" fill="#bebebe" stroke="#6a6a6a" stroke-width="0.6"/>
<rect x="129.16" y="552.60" width="2.26" height="11.70" fill="#bebebe" stroke="#6a6a6a" stroke-width="0.6"/>
<rect x="131.42" y="553.30" width="2.26" height="11.00" fill="#bebebe" stroke="#6a6a6a" stroke-width="0.6"/>
<rect x="133.68" y="556.00" width="2.26" height="8.30" fill="#bebebe" stroke="#6a6a6a" stroke-width="0.6"/>
<rect x="135.94" y="556.40" width="2.26" height="7.90" fill="#bebebe" stroke="#6a6a6a" stroke-width="0.6"/>
<rect x="138.20" y="555.20" width="2.26" height="9.10" fill="#bebebe" stroke="#6a6a6a" stroke-width="0.6"/>
<rect x="140.46" y="559.30" width="2.26" height="5.00" fill="#bebebe" stroke="#6a6a6a" stroke-width="0.6"/>
<rect x="142.72" y="560.00" width="2.26" height="4.30" fill="#bebebe" stroke="#6a6a6a" stroke-width="0.6"/>
<rect x="144.98" y="560.30" width="2.26" height="4.00" fill="#bebebe" stroke="#6a6a6a" stroke-width="0.6"/>
<rect x="147.24" y="561.50" width="2.26" height="2.80" fill="#bebebe" stroke="#6a6a6a" stroke-width="0.6"/>
<rect x="149.50" y="560.50" width="2.26" height="3.80" fill="#bebebe" stroke="#6a6a6a" stroke-width="0.6"/>
<rect x="151.76" y="561.80" width="2.26" height="2.50" fill="#bebebe" stroke="#6a6a6a" stroke-width="0.6"/>
<rect x="154.02" y="562.20" width="2.26" height="2.10" fill="#bebebe" stroke="#6a6a6a" stroke-width="0.6"/>
<rect x="156.28" y="562.50" width="2.26" height="1.80" fill="#bebebe" stroke="#6a6a6a" stroke-width="0.6"/>
<rect x="158.54" y="562.00" width="2.26" height="2.30" fill="#bebebe" stroke="#6a6a6a" stroke-width="0.6"/>
<rect x="160.80" y="562.80" width="2.26" height="1.50" fill="#bebebe" stroke="#6a6a6a" stroke-width="0.6"/>
<rect x="163.06" y="562.60" width="2.26" height="1.70" fill="#bebebe" stroke="#6a6a6a" stroke-width="0.6"/>
<rect x="165.32" y="563.00" width="2.26" height="1.30" fill="#bebebe" stroke="#6a6a6a" stroke-width="0.6"/>
<rect x="167.58" y="562.40" width="2.26" height="1.90" fill="#bebebe" stroke="#6a6a6a" stroke-width="0.6"/>
<rect x="169.84" y="562.90" width="2.26" height="1.40" fill="#bebebe" stroke="#6a6a6a" stroke-width="0.6"/>
<rect x="172.10" y="563.20" width="2.26" height="1.10" fill="#bebebe" stroke="#6a6a6a" stroke-width="0.6"/>
<rect x="174.36" y="562.70" width="2.26" height="1.60" fill="#bebebe" stroke="#6a6a6a" stroke-width="0.6"/>
<rect x="176.62" y="563.30" width="2.26" height="1.00" fill="#bebebe" stroke="#6a6a6a" stroke-width="0.6"/>
<rect x="178.88" y="563.10" width="2.26" height="1.20" fill="#bebebe" stroke="#6a6a6a" stroke-width="0.6"/>
<rect x="181.14" y="563.40" width="2.26" height="0.90" fill="#bebebe" stroke="#6a6a6a" stroke-width="0.6"/>
<rect x="183.40" y="563.50" width="2.26" height="0.80" fill="#bebebe" stroke="#6a6a6a" stroke-width="0.6"/>
<rect x="185.66" y="563.20" width="2.26" height="1.10" fill="#bebebe" stroke="#6a6a6a" stroke-width="0.6"/>
<rect x="187.92" y="563.60" width="2.26" height="0.70" fill="#bebebe" stroke="#6a6a6a" stroke-width="0.6"/>
<rect x="190.18" y="563.40" width="2.26" height="0.90" fill="#bebebe" stroke="#6a6a6a" stroke-width="0.6"/>
<rect x="192.44" y="563.70" width="2.26" height="0.60" fill="#bebebe" stroke="#6a6a6a" stroke-width="0.6"/>
<rect x="194.70" y="563.60" width="2.26" height="0.70" fill="#bebebe" stroke="#6a6a6a" stroke-width="0.6"/>
<rect x="196.96" y="563.80" width="2.26" height="0.50" fill="#bebebe" stroke="#6a6a6a" stroke-width="0.6"/>
<rect x="199.22" y="563.70" width="2.26" height="0.60" fill="#bebebe" stroke="#6a6a6a" stroke-width="0.6"/>
<rect x="201.48" y="563.90" width="2.26" height="0.40" fill="#bebebe" stroke="#6a6a6a" stroke-width="0.6"/>
<rect x="203.74" y="563.80" width="2.26" height="0.50" fill="#bebebe" stroke="#6a6a6a" stroke-width="0.6"/>
<rect x="206.00" y="563.90" width="2.26" height="0.40" fill="#bebebe" stroke="#6a6a6a" stroke-width="0.6"/>
<rect x="208.26" y="564.00" width="2.26" height="0.30" fill="#bebebe" stroke="#6a6a6a" stroke-width="0.6"/>
<rect x="210.52" y="563.90" width="2.26" height="0.40" fill="#bebebe" stroke="#6a6a6a" stroke-width="0.6"/>
<rect x="212.78" y="564.00" width="2.26" height="0.30" fill="#bebebe" stroke="#6a6a6a" stroke-width="0.6"/>
<rect x="215.04" y="564.00" width="2.26" height="0.30" fill="#bebebe" stroke="#6a6a6a" stroke-width="0.6"/>
<rect x="217.30" y="564.00" width="2.26" height="0.30" fill="#bebebe" stroke="#6a6a6a" stroke-width="0.6"/>
<line x1="123.40" y1="512" x2="123.40" y2="564.3" stroke="#3a22b0" stroke-width="1.6"/>
<line x1="63.5" y1="358.90" x2="63.5" y2="564.3" stroke="#777" stroke-width="1"/>
<line x1="59.5" y1="564.30" x2="63.5" y2="564.30" stroke="#999" stroke-width="0.9"/>
<text transform="translate(57.6 564.30) rotate(-90)" font-size="10.5" text-anchor="middle" fill="#111" stroke="#111" stroke-width="0.27">0.0</text>
<line x1="59.5" y1="512.95" x2="63.5" y2="512.95" stroke="#999" stroke-width="0.9"/>
<text transform="translate(57.6 512.95) rotate(-90)" font-size="10.5" text-anchor="middle" fill="#111" stroke="#111" stroke-width="0.27">0.2</text>
<line x1="59.5" y1="461.60" x2="63.5" y2="461.60" stroke="#999" stroke-width="0.9"/>
<text transform="translate(57.6 461.60) rotate(-90)" font-size="10.5" text-anchor="middle" fill="#111" stroke="#111" stroke-width="0.27">0.4</text>
<line x1="59.5" y1="410.25" x2="63.5" y2="410.25" stroke="#999" stroke-width="0.9"/>
<text transform="translate(57.6 410.25) rotate(-90)" font-size="10.5" text-anchor="middle" fill="#111" stroke="#111" stroke-width="0.27">0.6</text>
<line x1="59.5" y1="358.90" x2="63.5" y2="358.90" stroke="#999" stroke-width="0.9"/>
<text transform="translate(57.6 358.90) rotate(-90)" font-size="10.5" text-anchor="middle" fill="#111" stroke="#111" stroke-width="0.27">0.8</text>
<text transform="translate(41.5 462.4) rotate(-90)" font-size="10.65" text-anchor="middle" fill="#111" stroke="#111" stroke-width="0.277">Relative Frequency</text>
<line x1="70.4" y1="572.5" x2="251.20" y2="572.5" stroke="#666" stroke-width="1"/>
<line x1="70.40" y1="572.5" x2="70.40" y2="576.6" stroke="#666" stroke-width="0.9"/>
<text x="70.70" y="587.3" font-size="10.5" text-anchor="middle" fill="#111" stroke="#111" stroke-width="0.27">0</text>
<line x1="115.60" y1="572.5" x2="115.60" y2="576.6" stroke="#666" stroke-width="0.9"/>
<text x="115.90" y="587.3" font-size="10.5" text-anchor="middle" fill="#111" stroke="#111" stroke-width="0.27">2</text>
<line x1="160.80" y1="572.5" x2="160.80" y2="576.6" stroke="#666" stroke-width="0.9"/>
<text x="161.10" y="587.3" font-size="10.5" text-anchor="middle" fill="#111" stroke="#111" stroke-width="0.27">4</text>
<line x1="206.00" y1="572.5" x2="206.00" y2="576.6" stroke="#666" stroke-width="0.9"/>
<text x="206.30" y="587.3" font-size="10.5" text-anchor="middle" fill="#111" stroke="#111" stroke-width="0.27">6</text>
<line x1="251.20" y1="572.5" x2="251.20" y2="576.6" stroke="#666" stroke-width="0.9"/>
<text x="251.50" y="587.3" font-size="10.5" text-anchor="middle" fill="#111" stroke="#111" stroke-width="0.27">8</text>
<text x="162" y="602" font-size="10.7" text-anchor="middle" fill="#111" stroke="#111" stroke-width="0.28">F-ratio</text>
<rect x="204.6" y="349.5" width="53.6" height="15.9" fill="#fff" stroke="#8a8a8a" stroke-width="0.9"/>
<text x="214.4" y="361.7" font-size="10.9" fill="#111" stroke="#111" stroke-width="0.28">p &lt; 10<tspan font-size="6.8" dx="-0.6" dy="-4.3">-5</tspan></text>
<text transform="translate(246.6 537.2) rotate(-90)" font-size="10.4" fill="#111" stroke="#111" stroke-width="0.265">Observed F</text>
<line x1="243.2" y1="538" x2="243.2" y2="563" stroke="#222" stroke-width="0.9"/>
<path d="M240.8 558.8 L243.2 564 L245.6 558.8" fill="none" stroke="#222" stroke-width="0.9"/>
<rect x="290.5" y="349.5" width="195.00" height="223.00" fill="none" stroke="#777" stroke-width="0.9"/>
<line x1="286.3" y1="564.22" x2="290.5" y2="564.22" stroke="#777" stroke-width="0.9"/>
<text transform="translate(283.8 564.22) rotate(-90)" font-size="10.5" text-anchor="middle" fill="#111" stroke="#111" stroke-width="0.27">1.4</text>
<line x1="286.3" y1="529.80" x2="290.5" y2="529.80" stroke="#777" stroke-width="0.9"/>
<text transform="translate(283.8 529.80) rotate(-90)" font-size="10.5" text-anchor="middle" fill="#111" stroke="#111" stroke-width="0.27">1.6</text>
<line x1="286.3" y1="495.38" x2="290.5" y2="495.38" stroke="#777" stroke-width="0.9"/>
<text transform="translate(283.8 495.38) rotate(-90)" font-size="10.5" text-anchor="middle" fill="#111" stroke="#111" stroke-width="0.27">1.8</text>
<line x1="286.3" y1="460.96" x2="290.5" y2="460.96" stroke="#777" stroke-width="0.9"/>
<text transform="translate(283.8 460.96) rotate(-90)" font-size="10.5" text-anchor="middle" fill="#111" stroke="#111" stroke-width="0.27">2.0</text>
<line x1="286.3" y1="426.54" x2="290.5" y2="426.54" stroke="#777" stroke-width="0.9"/>
<text transform="translate(283.8 426.54) rotate(-90)" font-size="10.5" text-anchor="middle" fill="#111" stroke="#111" stroke-width="0.27">2.2</text>
<line x1="286.3" y1="392.12" x2="290.5" y2="392.12" stroke="#777" stroke-width="0.9"/>
<text transform="translate(283.8 392.12) rotate(-90)" font-size="10.5" text-anchor="middle" fill="#111" stroke="#111" stroke-width="0.27">2.4</text>
<line x1="286.3" y1="357.70" x2="290.5" y2="357.70" stroke="#777" stroke-width="0.9"/>
<text transform="translate(283.8 357.70) rotate(-90)" font-size="10.5" text-anchor="middle" fill="#111" stroke="#111" stroke-width="0.27">2.6</text>
<line x1="297.50" y1="572.5" x2="297.50" y2="576.7" stroke="#777" stroke-width="0.9"/>
<text x="297.50" y="587.6" font-size="10.5" text-anchor="middle" fill="#111" stroke="#111" stroke-width="0.27">100</text>
<line x1="337.50" y1="572.5" x2="337.50" y2="576.7" stroke="#777" stroke-width="0.9"/>
<text x="337.50" y="587.6" font-size="10.5" text-anchor="middle" fill="#111" stroke="#111" stroke-width="0.27">200</text>
<line x1="377.50" y1="572.5" x2="377.50" y2="576.7" stroke="#777" stroke-width="0.9"/>
<text x="377.50" y="587.6" font-size="10.5" text-anchor="middle" fill="#111" stroke="#111" stroke-width="0.27">300</text>
<line x1="417.50" y1="572.5" x2="417.50" y2="576.7" stroke="#777" stroke-width="0.9"/>
<text x="417.50" y="587.6" font-size="10.5" text-anchor="middle" fill="#111" stroke="#111" stroke-width="0.27">400</text>
<line x1="457.50" y1="572.5" x2="457.50" y2="576.7" stroke="#777" stroke-width="0.9"/>
<text x="457.50" y="587.6" font-size="10.5" text-anchor="middle" fill="#111" stroke="#111" stroke-width="0.27">500</text>
<text transform="translate(269.6 460.7) rotate(-90)" font-size="10.7" text-anchor="middle" fill="#111" stroke="#111" stroke-width="0.28">SDI</text>
<text x="389" y="601.4" font-size="10.7" text-anchor="middle" fill="#111" stroke="#111" stroke-width="0.28">Days after birth</text>
<path d="M297.40 485.00 L299.23 484.34 L301.05 483.62 L302.88 482.83 L304.71 481.98 L306.54 481.07 L308.36 480.10 L310.19 479.08 L312.02 478.00 L313.85 476.87 L315.67 475.69 L317.50 474.46 L319.33 473.18 L321.15 471.85 L322.98 470.49 L324.81 469.08 L326.64 467.63 L328.46 466.14 L330.29 464.62 L332.12 463.07 L333.95 461.48 L335.77 459.86 L337.60 458.22 L339.43 456.55 L341.25 454.85 L343.08 453.13 L344.91 451.39 L346.74 449.64 L348.56 447.86 L350.39 446.07 L352.22 444.27 L354.05 442.45 L355.87 440.63 L357.70 438.80 L359.53 436.96 L361.35 435.12 L363.18 433.28 L365.01 431.44 L366.84 429.60 L368.66 427.77 L370.49 425.94 L372.32 424.11 L374.15 422.30 L375.97 420.50 L377.80 418.71 L379.63 416.94 L381.45 415.19 L383.28 413.45 L385.11 411.73 L386.94 410.04 L388.76 408.37 L390.59 406.73 L392.42 405.12 L394.25 403.54 L396.07 401.99 L397.90 400.47 L399.73 398.99 L401.55 397.55 L403.38 396.15 L405.21 394.78 L407.04 393.47 L408.86 392.20 L410.69 390.97 L412.52 389.80 L414.35 388.67 L416.17 387.60 L418.00 386.58 L419.83 385.62 L421.65 384.72 L423.48 383.88 L425.31 383.10 L427.14 382.39 L428.96 381.74 L430.79 381.16 L432.62 380.65 L434.45 380.22 L436.27 379.85 L438.10 379.57 L439.93 379.35 L441.75 379.22 L443.58 379.17 L445.41 379.21 L447.24 379.33 L449.06 379.53 L450.89 379.83 L452.72 380.21 L454.55 380.69 L456.37 381.26 L458.20 381.93 L460.03 382.70 L461.85 383.56 L463.68 384.53 L465.51 385.61 L467.34 386.79 L469.16 388.07 L470.99 389.47 L472.82 390.98 L474.65 392.60 L476.47 394.33 L478.30 396.19" fill="none" stroke="#a8f0f0" stroke-width="1.6"/>
<path d="M297.40 419.39 L299.23 423.67 L301.05 427.74 L302.88 431.60 L304.71 435.25 L306.54 438.70 L308.36 441.95 L310.19 445.00 L312.02 447.86 L313.85 450.53 L315.67 453.02 L317.50 455.32 L319.33 457.45 L321.15 459.40 L322.98 461.18 L324.81 462.80 L326.64 464.25 L328.46 465.54 L330.29 466.67 L332.12 467.66 L333.95 468.49 L335.77 469.18 L337.60 469.73 L339.43 470.14 L341.25 470.41 L343.08 470.56 L344.91 470.57 L346.74 470.47 L348.56 470.24 L350.39 469.90 L352.22 469.45 L354.05 468.89 L355.87 468.22 L357.70 467.45 L359.53 466.59 L361.35 465.63 L363.18 464.58 L365.01 463.44 L366.84 462.22 L368.66 460.93 L370.49 459.55 L372.32 458.10 L374.15 456.59 L375.97 455.01 L377.80 453.37 L379.63 451.67 L381.45 449.93 L383.28 448.14 L385.11 446.30 L386.94 444.44 L388.76 442.54 L390.59 440.62 L392.42 438.68 L394.25 436.72 L396.07 434.75 L397.90 432.78 L399.73 430.81 L401.55 428.84 L403.38 426.88 L405.21 424.94 L407.04 423.02 L408.86 421.12 L410.69 419.25 L412.52 417.41 L414.35 415.62 L416.17 413.87 L418.00 412.17 L419.83 410.52 L421.65 408.93 L423.48 407.41 L425.31 405.96 L427.14 404.58 L428.96 403.29 L430.79 402.07 L432.62 400.95 L434.45 399.92 L436.27 398.99 L438.10 398.17 L439.93 397.46 L441.75 396.85 L443.58 396.37 L445.41 396.00 L447.24 395.75 L449.06 395.62 L450.89 395.62 L452.72 395.74 L454.55 395.99 L456.37 396.38 L458.20 396.89 L460.03 397.54 L461.85 398.33 L463.68 399.26 L465.51 400.33 L467.34 401.54 L469.16 402.91 L470.99 404.42 L472.82 406.08 L474.65 407.89 L476.47 409.86 L478.30 411.99" fill="none" stroke="#7cc142" stroke-width="1.6"/>
<path d="M297.40 465.01 L299.23 465.39 L301.05 465.73 L302.88 466.01 L304.71 466.26 L306.54 466.45 L308.36 466.60 L310.19 466.70 L312.02 466.76 L313.85 466.78 L315.67 466.75 L317.50 466.69 L319.33 466.58 L321.15 466.43 L322.98 466.23 L324.81 466.00 L326.64 465.74 L328.46 465.43 L330.29 465.08 L332.12 464.70 L333.95 464.28 L335.77 463.83 L337.60 463.34 L339.43 462.82 L341.25 462.26 L343.08 461.67 L344.91 461.05 L346.74 460.39 L348.56 459.71 L350.39 458.99 L352.22 458.25 L354.05 457.47 L355.87 456.67 L357.70 455.84 L359.53 454.98 L361.35 454.09 L363.18 453.18 L365.01 452.25 L366.84 451.28 L368.66 450.30 L370.49 449.29 L372.32 448.26 L374.15 447.21 L375.97 446.13 L377.80 445.04 L379.63 443.92 L381.45 442.79 L383.28 441.63 L385.11 440.46 L386.94 439.27 L388.76 438.07 L390.59 436.84 L392.42 435.60 L394.25 434.35 L396.07 433.09 L397.90 431.81 L399.73 430.51 L401.55 429.21 L403.38 427.89 L405.21 426.57 L407.04 425.23 L408.86 423.89 L410.69 422.54 L412.52 421.18 L414.35 419.81 L416.17 418.44 L418.00 417.06 L419.83 415.68 L421.65 414.29 L423.48 412.90 L425.31 411.51 L427.14 410.11 L428.96 408.71 L430.79 407.32 L432.62 405.92 L434.45 404.53 L436.27 403.14 L438.10 401.75 L439.93 400.36 L441.75 398.97 L443.58 397.60 L445.41 396.22 L447.24 394.86 L449.06 393.50 L450.89 392.14 L452.72 390.80 L454.55 389.46 L456.37 388.14 L458.20 386.82 L460.03 385.52 L461.85 384.23 L463.68 382.95 L465.51 381.69 L467.34 380.44 L469.16 379.21 L470.99 378.00 L472.82 376.80 L474.65 375.62 L476.47 374.46 L478.30 373.32" fill="none" stroke="#c12fd8" stroke-width="1.6"/>
<path d="M297.40 380.34 L299.23 386.95 L301.05 393.24 L302.88 399.22 L304.71 404.86 L306.54 410.16 L308.36 415.12 L310.19 419.74 L312.02 424.04 L313.85 428.03 L315.67 431.73 L317.50 435.14 L319.33 438.28 L321.15 441.16 L322.98 443.79 L324.81 446.20 L326.64 448.37 L328.46 450.32 L330.29 452.06 L332.12 453.59 L333.95 454.91 L335.77 456.04 L337.60 456.97 L339.43 457.72 L341.25 458.28 L343.08 458.68 L344.91 458.90 L346.74 458.97 L348.56 458.87 L350.39 458.63 L352.22 458.24 L354.05 457.72 L355.87 457.06 L357.70 456.28 L359.53 455.38 L361.35 454.37 L363.18 453.24 L365.01 452.02 L366.84 450.69 L368.66 449.28 L370.49 447.78 L372.32 446.21 L374.15 444.55 L375.97 442.83 L377.80 441.04 L379.63 439.20 L381.45 437.30 L383.28 435.36 L385.11 433.38 L386.94 431.36 L388.76 429.30 L390.59 427.23 L392.42 425.13 L394.25 423.02 L396.07 420.90 L397.90 418.78 L399.73 416.66 L401.55 414.54 L403.38 412.45 L405.21 410.36 L407.04 408.31 L408.86 406.28 L410.69 404.29 L412.52 402.34 L414.35 400.44 L416.17 398.58 L418.00 396.79 L419.83 395.05 L421.65 393.39 L423.48 391.80 L425.31 390.29 L427.14 388.86 L428.96 387.52 L430.79 386.28 L432.62 385.14 L434.45 384.11 L436.27 383.18 L438.10 382.38 L439.93 381.70 L441.75 381.15 L443.58 380.73 L445.41 380.45 L447.24 380.31 L449.06 380.33 L450.89 380.50 L452.72 380.84 L454.55 381.34 L456.37 382.01 L458.20 382.86 L460.03 383.90 L461.85 385.12 L463.68 386.54 L465.51 388.15 L467.34 389.98 L469.16 392.01 L470.99 394.26 L472.82 396.73 L474.65 399.43 L476.47 402.36 L478.30 405.53" fill="none" stroke="#4b1fd6" stroke-width="1.6"/>
<path d="M297.40 445.40 L299.23 447.82 L301.05 450.14 L302.88 452.36 L304.71 454.48 L306.54 456.50 L308.36 458.43 L310.19 460.27 L312.02 462.01 L313.85 463.66 L315.67 465.23 L317.50 466.71 L319.33 468.11 L321.15 469.42 L322.98 470.65 L324.81 471.80 L326.64 472.88 L328.46 473.88 L330.29 474.80 L332.12 475.65 L333.95 476.44 L335.77 477.15 L337.60 477.80 L339.43 478.38 L341.25 478.90 L343.08 479.36 L344.91 479.75 L346.74 480.09 L348.56 480.37 L350.39 480.60 L352.22 480.78 L354.05 480.90 L355.87 480.98 L357.70 481.01 L359.53 480.99 L361.35 480.93 L363.18 480.82 L365.01 480.68 L366.84 480.49 L368.66 480.27 L370.49 480.02 L372.32 479.73 L374.15 479.41 L375.97 479.06 L377.80 478.68 L379.63 478.27 L381.45 477.84 L383.28 477.39 L385.11 476.92 L386.94 476.42 L388.76 475.91 L390.59 475.39 L392.42 474.85 L394.25 474.29 L396.07 473.73 L397.90 473.16 L399.73 472.58 L401.55 472.00 L403.38 471.41 L405.21 470.82 L407.04 470.23 L408.86 469.64 L410.69 469.06 L412.52 468.48 L414.35 467.91 L416.17 467.35 L418.00 466.80 L419.83 466.26 L421.65 465.73 L423.48 465.22 L425.31 464.73 L427.14 464.26 L428.96 463.81 L430.79 463.38 L432.62 462.97 L434.45 462.60 L436.27 462.25 L438.10 461.93 L439.93 461.64 L441.75 461.39 L443.58 461.17 L445.41 460.99 L447.24 460.85 L449.06 460.75 L450.89 460.69 L452.72 460.67 L454.55 460.70 L456.37 460.78 L458.20 460.91 L460.03 461.09 L461.85 461.32 L463.68 461.60 L465.51 461.95 L467.34 462.35 L469.16 462.81 L470.99 463.33 L472.82 463.92 L474.65 464.57 L476.47 465.29 L478.30 466.07" fill="none" stroke="#000000" stroke-width="1.6"/>
<path d="M297.40 567.50 L299.23 565.04 L301.05 562.62 L302.88 560.24 L304.71 557.91 L306.54 555.62 L308.36 553.37 L310.19 551.17 L312.02 549.00 L313.85 546.88 L315.67 544.80 L317.50 542.75 L319.33 540.75 L321.15 538.78 L322.98 536.85 L324.81 534.96 L326.64 533.10 L328.46 531.29 L330.29 529.50 L332.12 527.75 L333.95 526.04 L335.77 524.36 L337.60 522.72 L339.43 521.10 L341.25 519.52 L343.08 517.97 L344.91 516.45 L346.74 514.97 L348.56 513.51 L350.39 512.08 L352.22 510.68 L354.05 509.31 L355.87 507.97 L357.70 506.66 L359.53 505.37 L361.35 504.11 L363.18 502.88 L365.01 501.67 L366.84 500.49 L368.66 499.33 L370.49 498.20 L372.32 497.09 L374.15 496.01 L375.97 494.95 L377.80 493.92 L379.63 492.91 L381.45 491.92 L383.28 490.96 L385.11 490.02 L386.94 489.10 L388.76 488.20 L390.59 487.33 L392.42 486.48 L394.25 485.64 L396.07 484.83 L397.90 484.04 L399.73 483.27 L401.55 482.51 L403.38 481.78 L405.21 481.07 L407.04 480.37 L408.86 479.70 L410.69 479.04 L412.52 478.40 L414.35 477.77 L416.17 477.16 L418.00 476.57 L419.83 476.00 L421.65 475.44 L423.48 474.90 L425.31 474.37 L427.14 473.86 L428.96 473.37 L430.79 472.88 L432.62 472.42 L434.45 471.96 L436.27 471.52 L438.10 471.09 L439.93 470.68 L441.75 470.27 L443.58 469.88 L445.41 469.50 L447.24 469.14 L449.06 468.78 L450.89 468.44 L452.72 468.10 L454.55 467.78 L456.37 467.46 L458.20 467.15 L460.03 466.86 L461.85 466.57 L463.68 466.29 L465.51 466.02 L467.34 465.76 L469.16 465.50 L470.99 465.25 L472.82 465.01 L474.65 464.78 L476.47 464.55 L478.30 464.33" fill="none" stroke="#a8172a" stroke-width="1.6"/>
<rect x="414.5" y="507.8" width="71.00" height="64.70" fill="#fff" stroke="#777" stroke-width="0.9"/>
<line x1="421" y1="517.10" x2="435.8" y2="517.10" stroke="#000000" stroke-width="1.6"/>
<text x="439.2" y="520.00" font-size="8.1" fill="#111" stroke="#111" stroke-width="0.16">Colorado</text>
<line x1="421" y1="526.37" x2="435.8" y2="526.37" stroke="#a8172a" stroke-width="1.6"/>
<text x="439.2" y="529.27" font-size="8.1" fill="#111" stroke="#111" stroke-width="0.16">Finland</text>
<line x1="421" y1="535.64" x2="435.8" y2="535.64" stroke="#7cc142" stroke-width="1.6"/>
<text x="439.2" y="538.54" font-size="8.1" fill="#111" stroke="#111" stroke-width="0.16">Georgia</text>
<line x1="421" y1="544.91" x2="435.8" y2="544.91" stroke="#4b1fd6" stroke-width="1.6"/>
<text x="439.2" y="547.81" font-size="8.1" fill="#111" stroke="#111" stroke-width="0.16">Germany</text>
<line x1="421" y1="554.18" x2="435.8" y2="554.18" stroke="#a8f0f0" stroke-width="1.6"/>
<text x="439.2" y="557.08" font-size="8.1" fill="#111" stroke="#111" stroke-width="0.16">Sweden</text>
<line x1="421" y1="563.45" x2="435.8" y2="563.45" stroke="#c12fd8" stroke-width="1.6"/>
<text x="439.2" y="566.35" font-size="8.1" fill="#111" stroke="#111" stroke-width="0.16">Washington</text>
</svg></body></html>
